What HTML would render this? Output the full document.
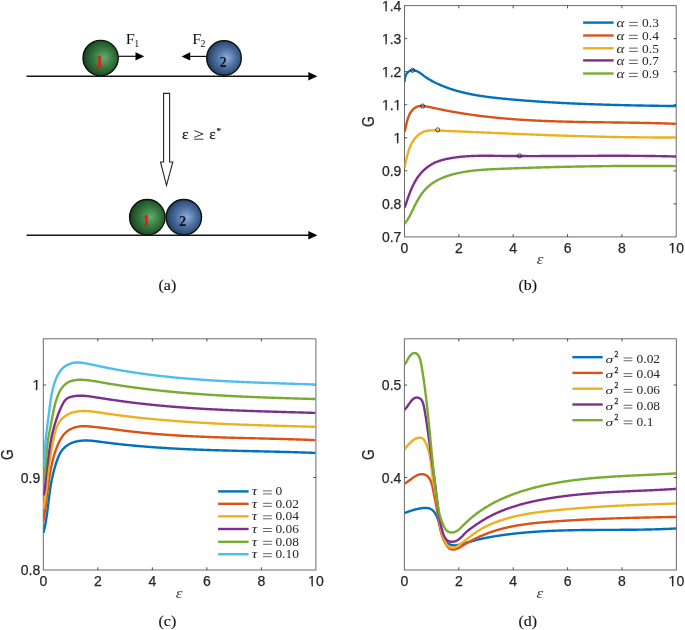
<!DOCTYPE html>
<html><head><meta charset="utf-8"><style>
html,body{margin:0;padding:0;background:#fff;overflow:hidden;}
svg{display:block;will-change:transform;}
.tk{stroke:#262626;stroke-width:0.25px;}
.tk2{stroke:#111;stroke-width:0.15px;}
.ln{fill:none;stroke-width:2.4;}
</style></head><body>
<svg width="685" height="630" viewBox="0 0 685 630">
<defs>
<clipPath id="fc0"><path clip-rule="evenodd" d="M-5.00,-20.00h25.57v30h-25.57ZM-0.13,-1.80H3.42V1.60H-0.13ZM4.86,-1.80H8.00V1.60H4.86Z"/></clipPath><clipPath id="fc1"><path clip-rule="evenodd" d="M-5.00,-20.00h17.79v30h-17.79ZM-0.13,-1.80H3.42V1.60H-0.13ZM4.86,-1.80H8.00V1.60H4.86Z"/></clipPath><clipPath id="fc2"><path clip-rule="evenodd" d="M-5.00,-20.00h29.46v30h-29.46ZM-0.13,-1.80H3.42V1.60H-0.13ZM4.86,-1.80H8.00V1.60H4.86ZM11.54,-1.80H15.10V1.60H11.54ZM16.53,-1.80H19.68V1.60H16.53Z"/></clipPath><clipPath id="fc3"><path clip-rule="evenodd" d="M-5.00,-20.00h29.46v30h-29.46ZM-0.13,-1.80H3.42V1.60H-0.13ZM4.86,-1.80H8.00V1.60H4.86Z"/></clipPath><clipPath id="fc4"><path clip-rule="evenodd" d="M-5.00,-20.00h29.46v30h-29.46ZM-0.13,-1.80H3.42V1.60H-0.13ZM4.86,-1.80H8.00V1.60H4.86Z"/></clipPath><clipPath id="fc5"><path clip-rule="evenodd" d="M-5.00,-20.00h29.46v30h-29.46ZM-0.13,-1.80H3.42V1.60H-0.13ZM4.86,-1.80H8.00V1.60H4.86Z"/></clipPath><clipPath id="fc6"><path clip-rule="evenodd" d="M-5.00,-20.00h25.57v30h-25.57ZM-0.13,-1.80H3.42V1.60H-0.13ZM4.86,-1.80H8.00V1.60H4.86Z"/></clipPath><clipPath id="fc7"><path clip-rule="evenodd" d="M-5.00,-20.00h17.79v30h-17.79ZM-0.13,-1.80H3.42V1.60H-0.13ZM4.86,-1.80H8.00V1.60H4.86Z"/></clipPath><clipPath id="fc8"><path clip-rule="evenodd" d="M-5.00,-20.00h25.57v30h-25.57ZM-0.13,-1.80H3.42V1.60H-0.13ZM4.86,-1.80H8.00V1.60H4.86Z"/></clipPath>
<clipPath id="cb"><rect x="404.5" y="5.6" width="271.7" height="231.3"/></clipPath>
<clipPath id="cc"><rect x="43.3" y="338.8" width="272.6" height="231.2"/></clipPath>
<clipPath id="cd"><rect x="404.4" y="338.8" width="272" height="231.2"/></clipPath>
<radialGradient id="gg" cx="0.56" cy="0.5" r="0.56" fx="0.6" fy="0.5">
<stop offset="0" stop-color="#66ad6e"/><stop offset="0.5" stop-color="#35793e"/><stop offset="0.85" stop-color="#21532a"/><stop offset="1" stop-color="#153a1b"/>
</radialGradient>
<radialGradient id="bg" cx="0.55" cy="0.5" r="0.56" fx="0.58" fy="0.5">
<stop offset="0" stop-color="#8eafd6"/><stop offset="0.5" stop-color="#4d70a0"/><stop offset="0.85" stop-color="#2d4a74"/><stop offset="1" stop-color="#1b2f50"/>
</radialGradient>
</defs>
<path d="M26.5,76.2H309" stroke="#151515" stroke-width="1.4"/>
<path d="M308.3,72.0L317.4,76.2L308.3,80.5Z" fill="#000"/>
<path d="M26.5,235.3H309" stroke="#151515" stroke-width="1.4"/>
<path d="M308.3,231.0L317.4,235.3L308.3,239.5Z" fill="#000"/>
<path d="M118,56.3H136.5" stroke="#111" stroke-width="1.2"/>
<path d="M135.5,52.3L144.2,56.3L135.5,60.4Z" fill="#000"/>
<path d="M206.5,56.4H189" stroke="#111" stroke-width="1.2"/>
<path d="M190.2,52.3L181.6,56.4L190.2,60.4Z" fill="#000"/>
<circle cx="100.6" cy="58" r="17.6" fill="url(#gg)" stroke="#0b140c" stroke-width="1.4"/>
<circle cx="224" cy="58" r="17.3" fill="url(#bg)" stroke="#0b140c" stroke-width="1.4"/>
<circle cx="147.3" cy="217.2" r="17.7" fill="url(#gg)" stroke="#0b140c" stroke-width="1.4"/>
<circle cx="183.8" cy="217.2" r="17.7" fill="url(#bg)" stroke="#0b140c" stroke-width="1.4"/>
<text transform="translate(95.32,66.70)" style="font-family:&quot;Liberation Serif&quot;,serif;font-weight:bold;font-size:16.4px" fill="#f21212">1</text>
<text transform="translate(219.72,66.60) scale(0.910,1)" style="font-family:&quot;Liberation Serif&quot;,serif;font-weight:bold;font-size:15.1px" fill="#0a0f1e">2</text>
<text transform="translate(141.96,226.20)" style="font-family:&quot;Liberation Serif&quot;,serif;font-weight:bold;font-size:16.8px" fill="#f21212">1</text>
<text transform="translate(179.08,225.80) scale(0.930,1)" style="font-family:&quot;Liberation Serif&quot;,serif;font-weight:bold;font-size:15.6px" fill="#0a0f1e">2</text>
<text transform="translate(125.73,44.40) scale(1.060,1)" style="font-family:&quot;Liberation Serif&quot;,serif;font-size:15.3px" fill="#111">F</text>
<text transform="translate(134.36,46.50)" style="font-family:&quot;Liberation Serif&quot;,serif;font-size:10px" fill="#111">1</text>
<text transform="translate(192.13,44.40) scale(1.060,1)" style="font-family:&quot;Liberation Serif&quot;,serif;font-size:15.3px" fill="#111">F</text>
<text transform="translate(200.56,46.60)" style="font-family:&quot;Liberation Serif&quot;,serif;font-size:10px" fill="#111">2</text>
<path d="M163.6,93.4H169.6V162H172.8L166.5,185.3L160.5,162H163.6Z" fill="#fff" stroke="#262626" stroke-width="1.1"/>
<text transform="translate(181.91,139.40) scale(1.080,1)" style="font-family:&quot;Liberation Serif&quot;,serif;font-size:14.2px" fill="#1a1a1a" class="tk">ε</text>
<path d="M194.3,130.5L203.0,133.9L194.3,137.3M194.2,139.2H203.3" stroke="#2a2a2a" stroke-width="0.95" fill="none"/>
<text transform="translate(209.21,139.40) scale(1.080,1)" style="font-family:&quot;Liberation Serif&quot;,serif;font-size:14.2px" fill="#1a1a1a" class="tk">ε</text>
<text transform="translate(216.46,134.20)" style="font-family:&quot;Liberation Serif&quot;,serif;font-size:9px" fill="#1a1a1a" class="tk">*</text>
<text transform="translate(158.49,290.40) scale(1.030,1)" style="font-family:&quot;Liberation Serif&quot;,serif;font-size:15.5px" fill="#111" class="tk2">(a)</text>
<rect x="404.5" y="5.6" width="271.70" height="231.30" fill="none" stroke="#6c6c6c" stroke-width="1"/>
<path d="M458.84,236.9V234.20M458.84,5.6V8.30M513.18,236.9V234.20M513.18,5.6V8.30M567.52,236.9V234.20M567.52,5.6V8.30M621.86,236.9V234.20M621.86,5.6V8.30M404.5,203.86H407.20M676.2,203.86H673.50M404.5,170.81H407.20M676.2,170.81H673.50M404.5,137.77H407.20M676.2,137.77H673.50M404.5,104.73H407.20M676.2,104.73H673.50M404.5,71.69H407.20M676.2,71.69H673.50M404.5,38.64H407.20M676.2,38.64H673.50" stroke="#262626" stroke-width="0.8" fill="none"/>
<text transform="translate(400.61,252.70)" style="font-family:&quot;Liberation Sans&quot;,sans-serif;font-size:14px" fill="#262626" class="tk">0</text>
<text transform="translate(454.95,252.70)" style="font-family:&quot;Liberation Sans&quot;,sans-serif;font-size:14px" fill="#262626" class="tk">2</text>
<text transform="translate(509.29,252.70)" style="font-family:&quot;Liberation Sans&quot;,sans-serif;font-size:14px" fill="#262626" class="tk">4</text>
<text transform="translate(563.63,252.70)" style="font-family:&quot;Liberation Sans&quot;,sans-serif;font-size:14px" fill="#262626" class="tk">6</text>
<text transform="translate(617.97,252.70)" style="font-family:&quot;Liberation Sans&quot;,sans-serif;font-size:14px" fill="#262626" class="tk">8</text>
<text transform="translate(668.41,252.70)" style="font-family:&quot;Liberation Sans&quot;,sans-serif;font-size:14px" fill="#262626" class="tk" clip-path="url(#fc0)">10</text>
<text transform="translate(381.94,241.90)" style="font-family:&quot;Liberation Sans&quot;,sans-serif;font-size:14px" fill="#262626" class="tk">0.7</text>
<text transform="translate(381.94,208.86)" style="font-family:&quot;Liberation Sans&quot;,sans-serif;font-size:14px" fill="#262626" class="tk">0.8</text>
<text transform="translate(381.94,175.81)" style="font-family:&quot;Liberation Sans&quot;,sans-serif;font-size:14px" fill="#262626" class="tk">0.9</text>
<text transform="translate(393.61,142.77)" style="font-family:&quot;Liberation Sans&quot;,sans-serif;font-size:14px" fill="#262626" class="tk" clip-path="url(#fc1)">1</text>
<text transform="translate(381.94,109.73)" style="font-family:&quot;Liberation Sans&quot;,sans-serif;font-size:14px" fill="#262626" class="tk" clip-path="url(#fc2)">1.1</text>
<text transform="translate(381.94,76.69)" style="font-family:&quot;Liberation Sans&quot;,sans-serif;font-size:14px" fill="#262626" class="tk" clip-path="url(#fc3)">1.2</text>
<text transform="translate(381.94,43.64)" style="font-family:&quot;Liberation Sans&quot;,sans-serif;font-size:14px" fill="#262626" class="tk" clip-path="url(#fc4)">1.3</text>
<text transform="translate(381.94,10.60)" style="font-family:&quot;Liberation Sans&quot;,sans-serif;font-size:14px" fill="#262626" class="tk" clip-path="url(#fc5)">1.4</text>
<path d="M404.52,82.30 L404.53,81.77 L404.55,81.23 L404.58,80.68 L404.63,80.11 L404.69,79.54 L404.77,78.96 L404.87,78.38 L404.99,77.79 L405.13,77.21 L405.29,76.64 L405.48,76.07 L405.68,75.52 L405.92,74.98 L406.18,74.45 L406.46,73.95 L406.78,73.47 L407.12,73.02 L407.50,72.59 L407.90,72.20 L408.33,71.83 L408.79,71.51 L409.27,71.21 L409.76,70.95 L410.28,70.73 L410.81,70.55 L411.35,70.41 L411.90,70.32 L412.46,70.26 L413.02,70.25 L413.58,70.29 L414.15,70.36 L414.71,70.47 L415.27,70.61 L415.83,70.79 L416.39,70.99 L416.94,71.22 L417.48,71.47 L418.01,71.74 L418.53,72.03 L419.05,72.32 L419.55,72.64 L420.03,72.96 L420.51,73.28 L420.99,73.62 L421.45,73.96 L421.91,74.31 L422.37,74.65 L422.83,75.00 L423.28,75.35 L423.74,75.69 L424.19,76.04 L424.65,76.38 L425.12,76.71 L425.59,77.04 L426.06,77.36 L426.53,77.68 L427.01,78.00 L427.49,78.31 L427.97,78.61 L428.46,78.92 L428.94,79.21 L429.43,79.51 L429.93,79.80 L430.42,80.09 L430.92,80.37 L431.42,80.65 L431.92,80.92 L432.43,81.19 L432.93,81.46 L433.44,81.73 L433.95,81.99 L434.46,82.25 L434.97,82.50 L435.49,82.76 L436.00,83.01 L436.52,83.25 L437.03,83.50 L437.55,83.74 L438.07,83.98 L438.59,84.21 L439.11,84.44 L439.63,84.67 L440.15,84.90 L440.68,85.13 L441.20,85.35 L441.73,85.57 L442.25,85.79 L442.78,86.00 L443.31,86.22 L443.83,86.43 L444.36,86.64 L444.89,86.84 L445.42,87.04 L445.95,87.25 L446.49,87.44 L447.02,87.64 L447.55,87.83 L448.09,88.02 L448.62,88.21 L449.16,88.40 L449.69,88.59 L450.23,88.77 L450.77,88.95 L451.31,89.13 L451.85,89.30 L452.39,89.48 L452.93,89.65 L453.47,89.82 L454.01,89.98 L454.55,90.15 L455.10,90.31 L455.64,90.47 L456.19,90.63 L456.73,90.79 L457.28,90.95 L457.82,91.10 L458.37,91.25 L458.92,91.40 L459.47,91.55 L460.02,91.69 L460.57,91.84 L461.12,91.98 L461.67,92.12 L462.22,92.26 L462.77,92.39 L463.32,92.53 L463.87,92.66 L464.43,92.79 L464.98,92.92 L465.54,93.05 L466.09,93.17 L466.65,93.30 L467.20,93.42 L467.76,93.54 L468.32,93.66 L468.87,93.78 L469.43,93.89 L469.99,94.01 L470.55,94.12 L471.11,94.23 L471.67,94.34 L472.23,94.45 L472.79,94.56 L473.35,94.67 L473.91,94.77 L474.47,94.87 L475.03,94.97 L475.60,95.07 L476.16,95.17 L476.72,95.27 L477.28,95.37 L477.85,95.46 L478.41,95.55 L478.98,95.65 L479.54,95.74 L480.11,95.83 L480.67,95.92 L481.24,96.00 L481.80,96.09 L482.37,96.17 L482.94,96.26 L483.51,96.34 L484.07,96.42 L484.64,96.50 L485.21,96.58 L485.78,96.66 L486.34,96.74 L486.91,96.82 L487.48,96.89 L488.05,96.97 L488.62,97.04 L489.19,97.11 L489.76,97.19 L490.33,97.26 L490.90,97.33 L491.47,97.40 L492.04,97.46 L492.61,97.53 L493.18,97.60 L493.75,97.66 L494.32,97.73 L494.89,97.79 L495.47,97.86 L496.04,97.92 L496.61,97.98 L497.18,98.05 L497.75,98.11 L498.32,98.17 L498.90,98.23 L499.47,98.29 L500.04,98.35 L500.61,98.40 L501.18,98.46 L501.76,98.52 L502.33,98.58 L502.90,98.63 L503.47,98.69 L504.04,98.74 L504.62,98.80 L505.19,98.85 L505.76,98.91 L506.33,98.96 L506.91,99.01 L507.48,99.07 L508.05,99.12 L508.62,99.17 L509.20,99.23 L509.77,99.28 L510.34,99.33 L510.91,99.38 L511.48,99.43 L512.06,99.48 L512.63,99.53 L513.20,99.58 L513.77,99.63 L514.34,99.68 L514.92,99.73 L515.49,99.78 L516.06,99.83 L516.63,99.88 L517.20,99.93 L517.77,99.98 L518.35,100.02 L518.92,100.07 L519.49,100.12 L520.06,100.16 L520.63,100.21 L521.20,100.26 L521.77,100.30 L522.35,100.35 L522.92,100.40 L523.49,100.44 L524.06,100.49 L524.63,100.53 L525.20,100.58 L525.77,100.62 L526.35,100.66 L526.92,100.71 L527.49,100.75 L528.06,100.79 L528.63,100.84 L529.20,100.88 L529.77,100.92 L530.34,100.97 L530.91,101.01 L531.48,101.05 L532.06,101.09 L532.63,101.13 L533.20,101.17 L533.77,101.21 L534.34,101.25 L534.91,101.30 L535.48,101.34 L536.05,101.38 L536.62,101.41 L537.19,101.45 L537.76,101.49 L538.33,101.53 L538.90,101.57 L539.47,101.61 L540.05,101.65 L540.62,101.69 L541.19,101.72 L541.76,101.76 L542.33,101.80 L542.90,101.83 L543.47,101.87 L544.04,101.91 L544.61,101.94 L545.18,101.98 L545.75,102.02 L546.32,102.05 L546.89,102.09 L547.46,102.12 L548.03,102.16 L548.60,102.19 L549.17,102.23 L549.74,102.26 L550.31,102.29 L550.88,102.33 L551.45,102.36 L552.02,102.40 L552.59,102.43 L553.16,102.46 L553.73,102.49 L554.30,102.53 L554.87,102.56 L555.44,102.59 L556.01,102.62 L556.58,102.66 L557.16,102.69 L557.73,102.72 L558.30,102.75 L558.87,102.78 L559.44,102.81 L560.01,102.84 L560.58,102.87 L561.15,102.90 L561.72,102.93 L562.29,102.96 L562.86,102.99 L563.43,103.02 L564.00,103.05 L564.57,103.08 L565.14,103.11 L565.71,103.13 L566.28,103.16 L566.85,103.19 L567.42,103.22 L567.99,103.25 L568.56,103.27 L569.13,103.30 L569.70,103.33 L570.27,103.36 L570.84,103.38 L571.41,103.41 L571.98,103.44 L572.55,103.46 L573.12,103.49 L573.69,103.51 L574.26,103.54 L574.83,103.56 L575.40,103.59 L575.96,103.61 L576.53,103.64 L577.10,103.66 L577.67,103.69 L578.24,103.71 L578.81,103.74 L579.38,103.76 L579.95,103.79 L580.52,103.81 L581.09,103.83 L581.66,103.86 L582.23,103.88 L582.80,103.90 L583.37,103.92 L583.94,103.95 L584.51,103.97 L585.08,103.99 L585.65,104.01 L586.22,104.04 L586.79,104.06 L587.36,104.08 L587.93,104.10 L588.50,104.12 L589.07,104.14 L589.64,104.17 L590.21,104.19 L590.78,104.21 L591.35,104.23 L591.93,104.25 L592.50,104.27 L593.07,104.29 L593.64,104.31 L594.21,104.33 L594.78,104.35 L595.35,104.37 L595.92,104.39 L596.49,104.41 L597.06,104.43 L597.63,104.44 L598.20,104.46 L598.77,104.48 L599.34,104.50 L599.91,104.52 L600.48,104.54 L601.05,104.55 L601.62,104.57 L602.19,104.59 L602.76,104.61 L603.33,104.63 L603.90,104.64 L604.47,104.66 L605.04,104.68 L605.61,104.69 L606.18,104.71 L606.75,104.73 L607.32,104.74 L607.89,104.76 L608.46,104.78 L609.03,104.79 L609.60,104.81 L610.18,104.83 L610.75,104.84 L611.32,104.86 L611.89,104.87 L612.46,104.89 L613.03,104.90 L613.60,104.92 L614.17,104.93 L614.74,104.95 L615.31,104.96 L615.88,104.98 L616.45,104.99 L617.02,105.01 L617.60,105.02 L618.17,105.04 L618.74,105.05 L619.31,105.07 L619.88,105.08 L620.45,105.09 L621.02,105.11 L621.59,105.12 L622.16,105.13 L622.73,105.15 L623.31,105.16 L623.88,105.17 L624.45,105.19 L625.02,105.20 L625.59,105.21 L626.16,105.23 L626.73,105.24 L627.30,105.25 L627.88,105.26 L628.45,105.28 L629.02,105.29 L629.59,105.30 L630.16,105.31 L630.73,105.33 L631.31,105.34 L631.88,105.35 L632.45,105.36 L633.02,105.37 L633.59,105.39 L634.16,105.40 L634.74,105.41 L635.31,105.42 L635.88,105.43 L636.45,105.44 L637.02,105.45 L637.60,105.46 L638.17,105.48 L638.74,105.49 L639.31,105.50 L639.88,105.51 L640.46,105.52 L641.03,105.53 L641.60,105.54 L642.17,105.55 L642.74,105.56 L643.32,105.57 L643.89,105.58 L644.46,105.59 L645.03,105.60 L645.61,105.61 L646.18,105.62 L646.75,105.63 L647.32,105.64 L647.90,105.65 L648.47,105.66 L649.04,105.67 L649.62,105.68 L650.19,105.69 L650.76,105.70 L651.33,105.71 L651.91,105.72 L652.48,105.73 L653.05,105.74 L653.63,105.74 L654.20,105.75 L654.77,105.76 L655.35,105.77 L655.92,105.78 L656.49,105.79 L657.07,105.80 L657.64,105.81 L658.21,105.82 L658.79,105.82 L659.36,105.83 L659.94,105.84 L660.51,105.85 L661.08,105.86 L661.66,105.87 L662.23,105.88 L662.80,105.88 L663.38,105.89 L663.95,105.90 L664.53,105.91 L665.10,105.92 L665.67,105.92 L666.25,105.93 L666.82,105.94 L667.40,105.95 L667.97,105.96 L668.55,105.96 L669.12,105.97 L669.70,105.98 L670.27,105.99 L670.85,106.00 L671.42,106.00 L671.99,106.01 L672.57,106.02 L673.14,106.03 L673.72,106.04 L674.29,106.04 L674.87,106.05 L675.45,106.06 L676.02,106.07" stroke="#0072BD" class="ln" clip-path="url(#cb)"/>
<path d="M404.50,131.99 L404.67,131.44 L404.82,130.89 L404.98,130.33 L405.12,129.77 L405.26,129.21 L405.40,128.65 L405.53,128.08 L405.66,127.52 L405.79,126.95 L405.91,126.39 L406.04,125.82 L406.16,125.25 L406.28,124.68 L406.41,124.12 L406.53,123.55 L406.66,122.98 L406.80,122.42 L406.93,121.85 L407.07,121.29 L407.22,120.73 L407.37,120.17 L407.53,119.61 L407.69,119.06 L407.87,118.50 L408.05,117.95 L408.24,117.41 L408.44,116.86 L408.66,116.32 L408.88,115.78 L409.12,115.25 L409.37,114.72 L409.63,114.19 L409.91,113.67 L410.20,113.15 L410.51,112.64 L410.83,112.14 L411.16,111.65 L411.51,111.17 L411.88,110.70 L412.25,110.25 L412.64,109.81 L413.05,109.39 L413.46,109.00 L413.89,108.62 L414.34,108.26 L414.79,107.93 L415.26,107.62 L415.74,107.34 L416.23,107.09 L416.73,106.87 L417.25,106.68 L417.78,106.52 L418.31,106.39 L418.86,106.28 L419.41,106.19 L419.97,106.13 L420.53,106.09 L421.11,106.07 L421.69,106.06 L422.27,106.07 L422.85,106.10 L423.44,106.15 L424.03,106.20 L424.63,106.26 L425.22,106.34 L425.81,106.42 L426.40,106.51 L426.99,106.61 L427.58,106.70 L428.17,106.81 L428.75,106.91 L429.33,107.02 L429.91,107.13 L430.49,107.24 L431.06,107.36 L431.64,107.47 L432.21,107.59 L432.78,107.71 L433.35,107.83 L433.92,107.96 L434.49,108.08 L435.06,108.20 L435.63,108.33 L436.20,108.45 L436.77,108.57 L437.34,108.70 L437.90,108.82 L438.47,108.94 L439.04,109.06 L439.61,109.18 L440.18,109.30 L440.74,109.42 L441.31,109.54 L441.88,109.65 L442.45,109.77 L443.02,109.89 L443.59,110.00 L444.16,110.11 L444.73,110.23 L445.30,110.34 L445.87,110.45 L446.43,110.56 L447.00,110.67 L447.57,110.78 L448.14,110.89 L448.71,111.00 L449.28,111.11 L449.85,111.21 L450.42,111.32 L450.99,111.42 L451.56,111.53 L452.13,111.63 L452.70,111.74 L453.28,111.84 L453.85,111.94 L454.42,112.04 L454.99,112.14 L455.56,112.24 L456.13,112.34 L456.70,112.44 L457.27,112.54 L457.84,112.63 L458.41,112.73 L458.99,112.82 L459.56,112.92 L460.13,113.01 L460.70,113.11 L461.27,113.20 L461.84,113.29 L462.42,113.38 L462.99,113.47 L463.56,113.56 L464.13,113.65 L464.70,113.74 L465.28,113.83 L465.85,113.92 L466.42,114.01 L466.99,114.09 L467.57,114.18 L468.14,114.26 L468.71,114.35 L469.29,114.43 L469.86,114.51 L470.43,114.60 L471.01,114.68 L471.58,114.76 L472.15,114.84 L472.73,114.92 L473.30,115.00 L473.87,115.08 L474.45,115.16 L475.02,115.24 L475.59,115.31 L476.17,115.39 L476.74,115.47 L477.32,115.54 L477.89,115.62 L478.46,115.69 L479.04,115.76 L479.61,115.84 L480.19,115.91 L480.76,115.98 L481.34,116.05 L481.91,116.12 L482.49,116.19 L483.06,116.26 L483.64,116.33 L484.21,116.40 L484.79,116.47 L485.36,116.54 L485.94,116.60 L486.51,116.67 L487.09,116.73 L487.66,116.80 L488.24,116.86 L488.81,116.93 L489.39,116.99 L489.96,117.05 L490.54,117.12 L491.11,117.18 L491.69,117.24 L492.27,117.30 L492.84,117.36 L493.42,117.42 L493.99,117.48 L494.57,117.54 L495.15,117.60 L495.72,117.65 L496.30,117.71 L496.88,117.77 L497.45,117.83 L498.03,117.88 L498.61,117.94 L499.18,117.99 L499.76,118.05 L500.34,118.10 L500.91,118.15 L501.49,118.21 L502.07,118.26 L502.64,118.31 L503.22,118.36 L503.80,118.41 L504.37,118.46 L504.95,118.51 L505.53,118.56 L506.11,118.61 L506.68,118.66 L507.26,118.71 L507.84,118.75 L508.42,118.80 L508.99,118.85 L509.57,118.89 L510.15,118.94 L510.73,118.99 L511.30,119.03 L511.88,119.08 L512.46,119.12 L513.04,119.16 L513.62,119.21 L514.19,119.25 L514.77,119.29 L515.35,119.33 L515.93,119.38 L516.51,119.42 L517.08,119.46 L517.66,119.50 L518.24,119.54 L518.82,119.58 L519.40,119.62 L519.98,119.65 L520.56,119.69 L521.13,119.73 L521.71,119.77 L522.29,119.80 L522.87,119.84 L523.45,119.88 L524.03,119.91 L524.61,119.95 L525.19,119.98 L525.76,120.02 L526.34,120.05 L526.92,120.09 L527.50,120.12 L528.08,120.15 L528.66,120.19 L529.24,120.22 L529.82,120.25 L530.40,120.28 L530.98,120.32 L531.56,120.35 L532.14,120.38 L532.72,120.41 L533.29,120.44 L533.87,120.47 L534.45,120.50 L535.03,120.53 L535.61,120.56 L536.19,120.58 L536.77,120.61 L537.35,120.64 L537.93,120.67 L538.51,120.69 L539.09,120.72 L539.67,120.75 L540.25,120.77 L540.83,120.80 L541.41,120.83 L541.99,120.85 L542.57,120.88 L543.15,120.90 L543.73,120.92 L544.31,120.95 L544.89,120.97 L545.47,121.00 L546.05,121.02 L546.63,121.04 L547.21,121.06 L547.79,121.09 L548.37,121.11 L548.95,121.13 L549.53,121.15 L550.11,121.17 L550.69,121.19 L551.27,121.22 L551.85,121.24 L552.44,121.26 L553.02,121.28 L553.60,121.30 L554.18,121.32 L554.76,121.33 L555.34,121.35 L555.92,121.37 L556.50,121.39 L557.08,121.41 L557.66,121.43 L558.24,121.44 L558.82,121.46 L559.40,121.48 L559.98,121.50 L560.56,121.51 L561.14,121.53 L561.73,121.55 L562.31,121.56 L562.89,121.58 L563.47,121.59 L564.05,121.61 L564.63,121.63 L565.21,121.64 L565.79,121.66 L566.37,121.67 L566.95,121.69 L567.53,121.70 L568.12,121.71 L568.70,121.73 L569.28,121.74 L569.86,121.76 L570.44,121.77 L571.02,121.78 L571.60,121.79 L572.18,121.81 L572.76,121.82 L573.34,121.83 L573.93,121.85 L574.51,121.86 L575.09,121.87 L575.67,121.88 L576.25,121.89 L576.83,121.91 L577.41,121.92 L577.99,121.93 L578.57,121.94 L579.16,121.95 L579.74,121.96 L580.32,121.97 L580.90,121.98 L581.48,121.99 L582.06,122.00 L582.64,122.01 L583.22,122.02 L583.80,122.03 L584.39,122.04 L584.97,122.05 L585.55,122.06 L586.13,122.07 L586.71,122.08 L587.29,122.09 L587.87,122.10 L588.45,122.11 L589.04,122.12 L589.62,122.13 L590.20,122.14 L590.78,122.15 L591.36,122.16 L591.94,122.16 L592.52,122.17 L593.10,122.18 L593.68,122.19 L594.27,122.20 L594.85,122.21 L595.43,122.21 L596.01,122.22 L596.59,122.23 L597.17,122.24 L597.75,122.25 L598.33,122.25 L598.91,122.26 L599.50,122.27 L600.08,122.28 L600.66,122.29 L601.24,122.29 L601.82,122.30 L602.40,122.31 L602.98,122.32 L603.56,122.32 L604.14,122.33 L604.73,122.34 L605.31,122.35 L605.89,122.35 L606.47,122.36 L607.05,122.37 L607.63,122.37 L608.21,122.38 L608.79,122.39 L609.37,122.40 L609.95,122.40 L610.53,122.41 L611.12,122.42 L611.70,122.43 L612.28,122.43 L612.86,122.44 L613.44,122.45 L614.02,122.45 L614.60,122.46 L615.18,122.47 L615.76,122.48 L616.34,122.48 L616.92,122.49 L617.50,122.50 L618.08,122.51 L618.66,122.51 L619.25,122.52 L619.83,122.53 L620.41,122.54 L620.99,122.54 L621.57,122.55 L622.15,122.56 L622.73,122.57 L623.31,122.58 L623.89,122.58 L624.47,122.59 L625.05,122.60 L625.63,122.61 L626.21,122.62 L626.79,122.62 L627.37,122.63 L627.95,122.64 L628.53,122.65 L629.11,122.66 L629.69,122.67 L630.27,122.68 L630.85,122.68 L631.43,122.69 L632.01,122.70 L632.59,122.71 L633.17,122.72 L633.75,122.73 L634.33,122.74 L634.91,122.75 L635.49,122.76 L636.07,122.77 L636.65,122.78 L637.23,122.79 L637.81,122.80 L638.39,122.81 L638.97,122.82 L639.55,122.83 L640.13,122.84 L640.71,122.85 L641.29,122.86 L641.87,122.87 L642.45,122.88 L643.03,122.89 L643.60,122.90 L644.18,122.92 L644.76,122.93 L645.34,122.94 L645.92,122.95 L646.50,122.96 L647.08,122.98 L647.66,122.99 L648.24,123.00 L648.82,123.01 L649.40,123.03 L649.97,123.04 L650.55,123.05 L651.13,123.07 L651.71,123.08 L652.29,123.09 L652.87,123.11 L653.45,123.12 L654.03,123.14 L654.60,123.15 L655.18,123.17 L655.76,123.18 L656.34,123.20 L656.92,123.21 L657.50,123.23 L658.07,123.24 L658.65,123.26 L659.23,123.27 L659.81,123.29 L660.39,123.31 L660.96,123.32 L661.54,123.34 L662.12,123.36 L662.70,123.38 L663.28,123.39 L663.85,123.41 L664.43,123.43 L665.01,123.45 L665.59,123.47 L666.16,123.49 L666.74,123.51 L667.32,123.53 L667.90,123.55 L668.47,123.57 L669.05,123.59 L669.63,123.61 L670.20,123.63 L670.78,123.65 L671.36,123.67 L671.94,123.69 L672.51,123.71 L673.09,123.73 L673.67,123.76 L674.24,123.78 L674.82,123.80 L675.40,123.83 L675.97,123.85" stroke="#D95319" class="ln" clip-path="url(#cb)"/>
<path d="M404.51,167.58 L404.64,167.02 L404.77,166.46 L404.90,165.90 L405.02,165.33 L405.15,164.76 L405.27,164.20 L405.40,163.62 L405.52,163.05 L405.65,162.48 L405.77,161.90 L405.90,161.32 L406.03,160.74 L406.15,160.16 L406.28,159.58 L406.42,159.00 L406.55,158.42 L406.69,157.84 L406.82,157.26 L406.97,156.68 L407.11,156.10 L407.26,155.52 L407.41,154.94 L407.56,154.37 L407.72,153.79 L407.88,153.21 L408.05,152.64 L408.22,152.07 L408.40,151.50 L408.58,150.93 L408.76,150.36 L408.96,149.80 L409.15,149.24 L409.36,148.68 L409.57,148.12 L409.79,147.57 L410.01,147.02 L410.24,146.48 L410.48,145.94 L410.72,145.40 L410.98,144.87 L411.24,144.34 L411.51,143.81 L411.78,143.29 L412.07,142.77 L412.37,142.26 L412.67,141.76 L412.99,141.26 L413.31,140.76 L413.64,140.27 L413.99,139.79 L414.34,139.31 L414.70,138.84 L415.08,138.38 L415.47,137.92 L415.86,137.47 L416.27,137.03 L416.69,136.60 L417.11,136.17 L417.55,135.76 L418.00,135.36 L418.45,134.97 L418.91,134.59 L419.38,134.23 L419.86,133.88 L420.35,133.54 L420.84,133.22 L421.34,132.92 L421.85,132.63 L422.36,132.37 L422.88,132.12 L423.41,131.88 L423.94,131.67 L424.47,131.48 L425.01,131.31 L425.56,131.15 L426.11,131.01 L426.66,130.89 L427.22,130.78 L427.79,130.69 L428.35,130.61 L428.92,130.54 L429.49,130.48 L430.07,130.44 L430.65,130.40 L431.23,130.38 L431.81,130.36 L432.40,130.35 L432.99,130.35 L433.58,130.36 L434.17,130.37 L434.76,130.38 L435.35,130.40 L435.95,130.42 L436.54,130.45 L437.14,130.47 L437.73,130.50 L438.33,130.52 L438.92,130.55 L439.52,130.57 L440.11,130.60 L440.71,130.63 L441.30,130.65 L441.89,130.68 L442.49,130.70 L443.08,130.73 L443.68,130.75 L444.27,130.78 L444.87,130.81 L445.46,130.83 L446.05,130.86 L446.65,130.88 L447.24,130.91 L447.84,130.94 L448.43,130.96 L449.02,130.99 L449.62,131.01 L450.21,131.04 L450.81,131.07 L451.40,131.09 L451.99,131.12 L452.59,131.14 L453.18,131.17 L453.77,131.20 L454.37,131.22 L454.96,131.25 L455.55,131.27 L456.15,131.30 L456.74,131.33 L457.34,131.35 L457.93,131.38 L458.52,131.41 L459.11,131.43 L459.71,131.46 L460.30,131.48 L460.89,131.51 L461.49,131.54 L462.08,131.56 L462.67,131.59 L463.27,131.61 L463.86,131.64 L464.45,131.67 L465.04,131.69 L465.64,131.72 L466.23,131.74 L466.82,131.77 L467.42,131.80 L468.01,131.82 L468.60,131.85 L469.19,131.88 L469.79,131.90 L470.38,131.93 L470.97,131.95 L471.56,131.98 L472.16,132.01 L472.75,132.03 L473.34,132.06 L473.93,132.08 L474.52,132.11 L475.12,132.14 L475.71,132.16 L476.30,132.19 L476.89,132.21 L477.49,132.24 L478.08,132.27 L478.67,132.29 L479.26,132.32 L479.85,132.34 L480.45,132.37 L481.04,132.39 L481.63,132.42 L482.22,132.45 L482.81,132.47 L483.40,132.50 L484.00,132.52 L484.59,132.55 L485.18,132.58 L485.77,132.60 L486.36,132.63 L486.95,132.65 L487.55,132.68 L488.14,132.70 L488.73,132.73 L489.32,132.75 L489.91,132.78 L490.50,132.81 L491.09,132.83 L491.69,132.86 L492.28,132.88 L492.87,132.91 L493.46,132.93 L494.05,132.96 L494.64,132.98 L495.23,133.01 L495.82,133.04 L496.41,133.06 L497.01,133.09 L497.60,133.11 L498.19,133.14 L498.78,133.16 L499.37,133.19 L499.96,133.21 L500.55,133.24 L501.14,133.26 L501.73,133.29 L502.32,133.31 L502.92,133.34 L503.51,133.36 L504.10,133.39 L504.69,133.41 L505.28,133.44 L505.87,133.46 L506.46,133.49 L507.05,133.51 L507.64,133.54 L508.23,133.56 L508.82,133.59 L509.41,133.61 L510.00,133.63 L510.59,133.66 L511.18,133.68 L511.77,133.71 L512.37,133.73 L512.96,133.76 L513.55,133.78 L514.14,133.81 L514.73,133.83 L515.32,133.85 L515.91,133.88 L516.50,133.90 L517.09,133.93 L517.68,133.95 L518.27,133.97 L518.86,134.00 L519.45,134.02 L520.04,134.05 L520.63,134.07 L521.22,134.09 L521.81,134.12 L522.40,134.14 L522.99,134.17 L523.58,134.19 L524.17,134.21 L524.76,134.24 L525.35,134.26 L525.94,134.28 L526.53,134.31 L527.12,134.33 L527.71,134.35 L528.30,134.38 L528.89,134.40 L529.48,134.42 L530.07,134.45 L530.66,134.47 L531.25,134.49 L531.84,134.51 L532.43,134.54 L533.02,134.56 L533.61,134.58 L534.20,134.61 L534.79,134.63 L535.38,134.65 L535.97,134.67 L536.56,134.70 L537.15,134.72 L537.74,134.74 L538.33,134.76 L538.92,134.79 L539.51,134.81 L540.10,134.83 L540.69,134.85 L541.28,134.87 L541.87,134.90 L542.46,134.92 L543.05,134.94 L543.64,134.96 L544.23,134.98 L544.82,135.00 L545.41,135.03 L546.00,135.05 L546.59,135.07 L547.18,135.09 L547.77,135.11 L548.36,135.13 L548.95,135.15 L549.54,135.18 L550.13,135.20 L550.72,135.22 L551.31,135.24 L551.90,135.26 L552.49,135.28 L553.08,135.30 L553.67,135.32 L554.25,135.34 L554.84,135.36 L555.43,135.38 L556.02,135.40 L556.61,135.42 L557.20,135.44 L557.79,135.46 L558.38,135.48 L558.97,135.50 L559.56,135.52 L560.15,135.54 L560.74,135.56 L561.33,135.58 L561.92,135.60 L562.51,135.62 L563.10,135.64 L563.69,135.66 L564.28,135.68 L564.87,135.70 L565.46,135.72 L566.05,135.74 L566.64,135.76 L567.23,135.77 L567.82,135.79 L568.41,135.81 L569.00,135.83 L569.59,135.85 L570.18,135.87 L570.77,135.89 L571.36,135.90 L571.95,135.92 L572.54,135.94 L573.13,135.96 L573.72,135.98 L574.31,136.00 L574.89,136.01 L575.48,136.03 L576.07,136.05 L576.66,136.07 L577.25,136.08 L577.84,136.10 L578.43,136.12 L579.02,136.14 L579.61,136.15 L580.20,136.17 L580.79,136.19 L581.38,136.20 L581.97,136.22 L582.56,136.24 L583.15,136.25 L583.74,136.27 L584.33,136.29 L584.92,136.30 L585.51,136.32 L586.10,136.33 L586.69,136.35 L587.28,136.37 L587.87,136.38 L588.46,136.40 L589.05,136.41 L589.64,136.43 L590.23,136.44 L590.82,136.46 L591.41,136.47 L592.00,136.49 L592.59,136.50 L593.18,136.52 L593.77,136.53 L594.36,136.55 L594.95,136.56 L595.54,136.58 L596.13,136.59 L596.72,136.61 L597.31,136.62 L597.90,136.63 L598.49,136.65 L599.08,136.66 L599.67,136.68 L600.26,136.69 L600.85,136.70 L601.44,136.72 L602.03,136.73 L602.62,136.74 L603.22,136.76 L603.81,136.77 L604.40,136.78 L604.99,136.80 L605.58,136.81 L606.17,136.82 L606.76,136.83 L607.35,136.85 L607.94,136.86 L608.53,136.87 L609.12,136.88 L609.71,136.89 L610.30,136.91 L610.89,136.92 L611.48,136.93 L612.07,136.94 L612.66,136.95 L613.25,136.96 L613.84,136.97 L614.43,136.99 L615.03,137.00 L615.62,137.01 L616.21,137.02 L616.80,137.03 L617.39,137.04 L617.98,137.05 L618.57,137.06 L619.16,137.07 L619.75,137.08 L620.34,137.09 L620.93,137.10 L621.52,137.11 L622.12,137.12 L622.71,137.13 L623.30,137.14 L623.89,137.14 L624.48,137.15 L625.07,137.16 L625.66,137.17 L626.25,137.18 L626.84,137.19 L627.44,137.20 L628.03,137.20 L628.62,137.21 L629.21,137.22 L629.80,137.23 L630.39,137.24 L630.98,137.24 L631.58,137.25 L632.17,137.26 L632.76,137.27 L633.35,137.27 L633.94,137.28 L634.53,137.29 L635.12,137.29 L635.72,137.30 L636.31,137.31 L636.90,137.31 L637.49,137.32 L638.08,137.32 L638.67,137.33 L639.27,137.34 L639.86,137.34 L640.45,137.35 L641.04,137.35 L641.63,137.36 L642.23,137.36 L642.82,137.37 L643.41,137.37 L644.00,137.38 L644.59,137.38 L645.19,137.38 L645.78,137.39 L646.37,137.39 L646.96,137.40 L647.56,137.40 L648.15,137.40 L648.74,137.41 L649.33,137.41 L649.93,137.41 L650.52,137.42 L651.11,137.42 L651.70,137.42 L652.30,137.43 L652.89,137.43 L653.48,137.43 L654.07,137.43 L654.67,137.43 L655.26,137.44 L655.85,137.44 L656.44,137.44 L657.04,137.44 L657.63,137.44 L658.22,137.44 L658.82,137.44 L659.41,137.44 L660.00,137.45 L660.60,137.45 L661.19,137.45 L661.78,137.45 L662.37,137.45 L662.97,137.45 L663.56,137.45 L664.15,137.45 L664.75,137.45 L665.34,137.44 L665.94,137.44 L666.53,137.44 L667.12,137.44 L667.72,137.44 L668.31,137.44 L668.90,137.44 L669.50,137.44 L670.09,137.43 L670.68,137.43 L671.28,137.43 L671.87,137.43 L672.47,137.42 L673.06,137.42 L673.65,137.42 L674.25,137.41 L674.84,137.41 L675.44,137.41 L676.03,137.40" stroke="#EDB120" class="ln" clip-path="url(#cb)"/>
<path d="M404.52,207.89 L404.72,207.34 L404.91,206.78 L405.10,206.23 L405.29,205.67 L405.48,205.11 L405.68,204.55 L405.87,203.99 L406.06,203.42 L406.25,202.86 L406.44,202.29 L406.64,201.73 L406.83,201.16 L407.02,200.60 L407.22,200.03 L407.41,199.47 L407.61,198.90 L407.81,198.33 L408.01,197.77 L408.21,197.20 L408.41,196.63 L408.61,196.07 L408.82,195.50 L409.03,194.94 L409.24,194.37 L409.45,193.81 L409.66,193.25 L409.88,192.69 L410.10,192.13 L410.32,191.57 L410.54,191.01 L410.77,190.45 L411.00,189.90 L411.23,189.34 L411.47,188.79 L411.71,188.24 L411.95,187.70 L412.20,187.15 L412.44,186.61 L412.70,186.06 L412.96,185.52 L413.22,184.99 L413.48,184.45 L413.75,183.92 L414.03,183.39 L414.31,182.87 L414.59,182.34 L414.88,181.82 L415.17,181.30 L415.47,180.79 L415.77,180.28 L416.08,179.77 L416.39,179.27 L416.71,178.77 L417.03,178.27 L417.36,177.78 L417.70,177.29 L418.04,176.80 L418.39,176.32 L418.74,175.85 L419.10,175.37 L419.47,174.91 L419.84,174.44 L420.22,173.98 L420.61,173.53 L421.00,173.08 L421.40,172.64 L421.81,172.20 L422.22,171.76 L422.64,171.33 L423.06,170.91 L423.49,170.49 L423.93,170.08 L424.38,169.67 L424.83,169.27 L425.28,168.88 L425.74,168.49 L426.21,168.11 L426.68,167.73 L427.16,167.37 L427.64,167.00 L428.13,166.65 L428.62,166.30 L429.12,165.96 L429.62,165.62 L430.12,165.29 L430.63,164.97 L431.15,164.66 L431.67,164.36 L432.19,164.06 L432.72,163.77 L433.25,163.49 L433.78,163.21 L434.32,162.95 L434.86,162.69 L435.40,162.44 L435.95,162.20 L436.50,161.97 L437.05,161.75 L437.61,161.53 L438.16,161.32 L438.72,161.12 L439.29,160.92 L439.85,160.74 L440.42,160.55 L440.99,160.38 L441.56,160.21 L442.13,160.05 L442.71,159.89 L443.29,159.74 L443.86,159.59 L444.44,159.45 L445.02,159.31 L445.61,159.18 L446.19,159.05 L446.77,158.92 L447.36,158.80 L447.94,158.68 L448.53,158.57 L449.11,158.45 L449.70,158.35 L450.28,158.24 L450.87,158.14 L451.46,158.03 L452.04,157.94 L452.63,157.84 L453.22,157.75 L453.81,157.66 L454.40,157.57 L454.99,157.49 L455.58,157.41 L456.17,157.33 L456.76,157.25 L457.35,157.17 L457.94,157.10 L458.53,157.03 L459.12,156.97 L459.71,156.90 L460.30,156.84 L460.90,156.78 L461.49,156.72 L462.08,156.66 L462.67,156.61 L463.27,156.56 L463.86,156.51 L464.45,156.46 L465.05,156.41 L465.64,156.37 L466.24,156.33 L466.83,156.29 L467.43,156.25 L468.02,156.21 L468.62,156.18 L469.21,156.14 L469.81,156.11 L470.40,156.08 L471.00,156.05 L471.60,156.03 L472.19,156.00 L472.79,155.98 L473.39,155.96 L473.98,155.94 L474.58,155.92 L475.18,155.90 L475.78,155.88 L476.38,155.87 L476.97,155.85 L477.57,155.84 L478.17,155.83 L478.77,155.82 L479.37,155.81 L479.96,155.80 L480.56,155.80 L481.16,155.79 L481.76,155.78 L482.36,155.78 L482.96,155.78 L483.56,155.77 L484.16,155.77 L484.76,155.77 L485.36,155.77 L485.96,155.77 L486.56,155.77 L487.16,155.78 L487.75,155.78 L488.35,155.78 L488.95,155.78 L489.55,155.79 L490.15,155.79 L490.75,155.80 L491.35,155.80 L491.95,155.81 L492.55,155.82 L493.15,155.82 L493.75,155.83 L494.35,155.84 L494.95,155.84 L495.55,155.85 L496.15,155.86 L496.75,155.87 L497.35,155.87 L497.95,155.88 L498.55,155.89 L499.15,155.90 L499.75,155.90 L500.35,155.91 L500.95,155.92 L501.55,155.92 L502.15,155.93 L502.75,155.94 L503.35,155.94 L503.95,155.95 L504.55,155.95 L505.15,155.96 L505.75,155.97 L506.35,155.97 L506.95,155.98 L507.54,155.98 L508.14,155.99 L508.74,155.99 L509.34,156.00 L509.94,156.00 L510.54,156.01 L511.14,156.01 L511.74,156.01 L512.33,156.02 L512.93,156.02 L513.53,156.03 L514.13,156.03 L514.73,156.03 L515.33,156.04 L515.93,156.04 L516.52,156.04 L517.12,156.05 L517.72,156.05 L518.32,156.05 L518.92,156.05 L519.52,156.06 L520.11,156.06 L520.71,156.06 L521.31,156.06 L521.91,156.06 L522.51,156.07 L523.10,156.07 L523.70,156.07 L524.30,156.07 L524.90,156.07 L525.50,156.07 L526.09,156.07 L526.69,156.08 L527.29,156.08 L527.89,156.08 L528.48,156.08 L529.08,156.08 L529.68,156.08 L530.28,156.08 L530.87,156.08 L531.47,156.08 L532.07,156.08 L532.67,156.08 L533.26,156.08 L533.86,156.08 L534.46,156.08 L535.06,156.08 L535.65,156.08 L536.25,156.08 L536.85,156.08 L537.44,156.08 L538.04,156.08 L538.64,156.08 L539.24,156.08 L539.83,156.08 L540.43,156.07 L541.03,156.07 L541.62,156.07 L542.22,156.07 L542.82,156.07 L543.41,156.07 L544.01,156.07 L544.61,156.07 L545.20,156.06 L545.80,156.06 L546.40,156.06 L546.99,156.06 L547.59,156.06 L548.19,156.06 L548.78,156.05 L549.38,156.05 L549.98,156.05 L550.57,156.05 L551.17,156.05 L551.77,156.04 L552.36,156.04 L552.96,156.04 L553.56,156.04 L554.15,156.03 L554.75,156.03 L555.35,156.03 L555.94,156.03 L556.54,156.02 L557.14,156.02 L557.73,156.02 L558.33,156.02 L558.92,156.01 L559.52,156.01 L560.12,156.01 L560.71,156.00 L561.31,156.00 L561.91,156.00 L562.50,156.00 L563.10,155.99 L563.70,155.99 L564.29,155.99 L564.89,155.98 L565.48,155.98 L566.08,155.98 L566.68,155.98 L567.27,155.97 L567.87,155.97 L568.46,155.97 L569.06,155.96 L569.66,155.96 L570.25,155.96 L570.85,155.95 L571.45,155.95 L572.04,155.95 L572.64,155.94 L573.23,155.94 L573.83,155.94 L574.43,155.94 L575.02,155.93 L575.62,155.93 L576.21,155.93 L576.81,155.92 L577.41,155.92 L578.00,155.92 L578.60,155.91 L579.19,155.91 L579.79,155.91 L580.39,155.90 L580.98,155.90 L581.58,155.90 L582.17,155.89 L582.77,155.89 L583.37,155.89 L583.96,155.89 L584.56,155.88 L585.15,155.88 L585.75,155.88 L586.35,155.87 L586.94,155.87 L587.54,155.87 L588.13,155.87 L588.73,155.86 L589.33,155.86 L589.92,155.86 L590.52,155.86 L591.11,155.85 L591.71,155.85 L592.31,155.85 L592.90,155.84 L593.50,155.84 L594.10,155.84 L594.69,155.84 L595.29,155.84 L595.88,155.83 L596.48,155.83 L597.08,155.83 L597.67,155.83 L598.27,155.82 L598.86,155.82 L599.46,155.82 L600.06,155.82 L600.65,155.82 L601.25,155.82 L601.85,155.81 L602.44,155.81 L603.04,155.81 L603.63,155.81 L604.23,155.81 L604.83,155.81 L605.42,155.80 L606.02,155.80 L606.62,155.80 L607.21,155.80 L607.81,155.80 L608.41,155.80 L609.00,155.80 L609.60,155.80 L610.19,155.80 L610.79,155.80 L611.39,155.80 L611.98,155.80 L612.58,155.79 L613.18,155.79 L613.77,155.79 L614.37,155.79 L614.97,155.79 L615.56,155.79 L616.16,155.79 L616.76,155.79 L617.35,155.79 L617.95,155.80 L618.55,155.80 L619.14,155.80 L619.74,155.80 L620.34,155.80 L620.93,155.80 L621.53,155.80 L622.13,155.80 L622.73,155.80 L623.32,155.80 L623.92,155.81 L624.52,155.81 L625.11,155.81 L625.71,155.81 L626.31,155.81 L626.90,155.81 L627.50,155.82 L628.10,155.82 L628.70,155.82 L629.29,155.82 L629.89,155.83 L630.49,155.83 L631.08,155.83 L631.68,155.84 L632.28,155.84 L632.88,155.84 L633.47,155.85 L634.07,155.85 L634.67,155.85 L635.27,155.86 L635.86,155.86 L636.46,155.86 L637.06,155.87 L637.66,155.87 L638.26,155.88 L638.85,155.88 L639.45,155.89 L640.05,155.89 L640.65,155.90 L641.24,155.90 L641.84,155.91 L642.44,155.91 L643.04,155.92 L643.64,155.93 L644.23,155.93 L644.83,155.94 L645.43,155.94 L646.03,155.95 L646.63,155.96 L647.23,155.96 L647.82,155.97 L648.42,155.98 L649.02,155.99 L649.62,155.99 L650.22,156.00 L650.82,156.01 L651.42,156.02 L652.01,156.02 L652.61,156.03 L653.21,156.04 L653.81,156.05 L654.41,156.06 L655.01,156.07 L655.61,156.08 L656.21,156.09 L656.80,156.10 L657.40,156.11 L658.00,156.12 L658.60,156.13 L659.20,156.14 L659.80,156.15 L660.40,156.16 L661.00,156.17 L661.60,156.18 L662.20,156.19 L662.80,156.20 L663.40,156.21 L664.00,156.23 L664.60,156.24 L665.20,156.25 L665.80,156.26 L666.40,156.28 L667.00,156.29 L667.60,156.30 L668.20,156.32 L668.80,156.33 L669.40,156.34 L670.00,156.36 L670.60,156.37 L671.20,156.39 L671.80,156.40 L672.40,156.41 L673.00,156.43 L673.60,156.44 L674.20,156.46 L674.80,156.48 L675.40,156.49 L676.00,156.51" stroke="#7E2F8E" class="ln" clip-path="url(#cb)"/>
<path d="M404.54,223.61 L404.93,223.16 L405.30,222.70 L405.67,222.24 L406.03,221.77 L406.38,221.30 L406.72,220.82 L407.05,220.33 L407.38,219.85 L407.70,219.35 L408.01,218.85 L408.31,218.35 L408.61,217.85 L408.91,217.34 L409.20,216.82 L409.49,216.31 L409.77,215.79 L410.04,215.27 L410.32,214.74 L410.59,214.22 L410.86,213.69 L411.12,213.16 L411.38,212.62 L411.65,212.09 L411.91,211.55 L412.17,211.02 L412.43,210.48 L412.68,209.94 L412.94,209.40 L413.20,208.86 L413.47,208.32 L413.73,207.78 L413.99,207.25 L414.26,206.71 L414.52,206.17 L414.79,205.63 L415.06,205.10 L415.33,204.56 L415.61,204.03 L415.88,203.49 L416.16,202.96 L416.44,202.43 L416.73,201.90 L417.01,201.38 L417.30,200.85 L417.59,200.33 L417.89,199.81 L418.19,199.29 L418.49,198.78 L418.80,198.27 L419.11,197.76 L419.42,197.25 L419.74,196.75 L420.06,196.25 L420.39,195.75 L420.72,195.26 L421.06,194.77 L421.40,194.29 L421.74,193.81 L422.09,193.33 L422.45,192.86 L422.81,192.39 L423.18,191.93 L423.55,191.47 L423.93,191.02 L424.31,190.58 L424.70,190.13 L425.09,189.70 L425.50,189.27 L425.90,188.84 L426.31,188.42 L426.73,188.00 L427.15,187.60 L427.58,187.19 L428.02,186.79 L428.45,186.40 L428.90,186.01 L429.35,185.63 L429.80,185.26 L430.26,184.89 L430.72,184.52 L431.19,184.16 L431.66,183.81 L432.14,183.47 L432.62,183.12 L433.10,182.79 L433.59,182.46 L434.09,182.14 L434.58,181.82 L435.09,181.51 L435.59,181.21 L436.10,180.91 L436.61,180.62 L437.13,180.34 L437.65,180.06 L438.18,179.78 L438.70,179.52 L439.23,179.26 L439.77,179.00 L440.30,178.76 L440.84,178.51 L441.39,178.28 L441.93,178.04 L442.48,177.82 L443.03,177.59 L443.58,177.38 L444.13,177.17 L444.69,176.96 L445.24,176.75 L445.80,176.56 L446.36,176.36 L446.92,176.17 L447.49,175.98 L448.05,175.80 L448.61,175.62 L449.18,175.44 L449.74,175.27 L450.31,175.10 L450.88,174.94 L451.45,174.77 L452.01,174.61 L452.58,174.46 L453.15,174.30 L453.72,174.15 L454.30,174.00 L454.87,173.86 L455.44,173.72 L456.01,173.58 L456.59,173.44 L457.16,173.31 L457.74,173.18 L458.32,173.06 L458.89,172.93 L459.47,172.81 L460.05,172.69 L460.63,172.58 L461.20,172.46 L461.78,172.35 L462.36,172.24 L462.94,172.14 L463.53,172.03 L464.11,171.93 L464.69,171.83 L465.27,171.74 L465.85,171.64 L466.44,171.55 L467.02,171.46 L467.61,171.38 L468.19,171.29 L468.78,171.21 L469.36,171.13 L469.95,171.05 L470.54,170.97 L471.12,170.90 L471.71,170.82 L472.30,170.75 L472.89,170.68 L473.48,170.62 L474.06,170.55 L474.65,170.49 L475.24,170.43 L475.83,170.37 L476.42,170.31 L477.01,170.25 L477.61,170.19 L478.20,170.14 L478.79,170.09 L479.38,170.04 L479.97,169.99 L480.56,169.94 L481.16,169.89 L481.75,169.85 L482.34,169.80 L482.94,169.76 L483.53,169.72 L484.12,169.68 L484.72,169.64 L485.31,169.60 L485.90,169.56 L486.50,169.52 L487.09,169.49 L487.69,169.45 L488.28,169.42 L488.88,169.39 L489.47,169.35 L490.07,169.32 L490.66,169.29 L491.26,169.26 L491.85,169.23 L492.45,169.20 L493.04,169.17 L493.64,169.15 L494.23,169.12 L494.83,169.09 L495.42,169.07 L496.02,169.04 L496.61,169.02 L497.21,168.99 L497.80,168.97 L498.40,168.94 L498.99,168.92 L499.59,168.89 L500.18,168.87 L500.78,168.84 L501.37,168.82 L501.97,168.80 L502.56,168.77 L503.16,168.75 L503.75,168.72 L504.35,168.70 L504.94,168.68 L505.53,168.65 L506.13,168.63 L506.72,168.61 L507.32,168.58 L507.91,168.56 L508.50,168.54 L509.10,168.52 L509.69,168.49 L510.29,168.47 L510.88,168.45 L511.47,168.43 L512.07,168.40 L512.66,168.38 L513.25,168.36 L513.85,168.34 L514.44,168.32 L515.03,168.29 L515.63,168.27 L516.22,168.25 L516.81,168.23 L517.40,168.21 L518.00,168.19 L518.59,168.16 L519.18,168.14 L519.78,168.12 L520.37,168.10 L520.96,168.08 L521.55,168.06 L522.15,168.04 L522.74,168.02 L523.33,168.00 L523.92,167.98 L524.51,167.96 L525.11,167.94 L525.70,167.92 L526.29,167.90 L526.88,167.88 L527.48,167.86 L528.07,167.84 L528.66,167.82 L529.25,167.80 L529.84,167.78 L530.43,167.76 L531.03,167.74 L531.62,167.72 L532.21,167.70 L532.80,167.69 L533.39,167.67 L533.98,167.65 L534.57,167.63 L535.17,167.61 L535.76,167.59 L536.35,167.57 L536.94,167.56 L537.53,167.54 L538.12,167.52 L538.71,167.50 L539.30,167.48 L539.89,167.47 L540.49,167.45 L541.08,167.43 L541.67,167.41 L542.26,167.40 L542.85,167.38 L543.44,167.36 L544.03,167.35 L544.62,167.33 L545.21,167.31 L545.80,167.30 L546.39,167.28 L546.98,167.26 L547.57,167.25 L548.16,167.23 L548.76,167.21 L549.35,167.20 L549.94,167.18 L550.53,167.17 L551.12,167.15 L551.71,167.13 L552.30,167.12 L552.89,167.10 L553.48,167.09 L554.07,167.07 L554.66,167.06 L555.25,167.04 L555.84,167.03 L556.43,167.01 L557.02,167.00 L557.61,166.98 L558.20,166.97 L558.79,166.95 L559.38,166.94 L559.97,166.93 L560.56,166.91 L561.15,166.90 L561.74,166.88 L562.33,166.87 L562.92,166.86 L563.51,166.84 L564.10,166.83 L564.69,166.82 L565.28,166.80 L565.87,166.79 L566.46,166.78 L567.05,166.76 L567.64,166.75 L568.23,166.74 L568.82,166.72 L569.41,166.71 L570.00,166.70 L570.59,166.69 L571.18,166.67 L571.77,166.66 L572.36,166.65 L572.94,166.64 L573.53,166.63 L574.12,166.61 L574.71,166.60 L575.30,166.59 L575.89,166.58 L576.48,166.57 L577.07,166.56 L577.66,166.54 L578.25,166.53 L578.84,166.52 L579.43,166.51 L580.02,166.50 L580.61,166.49 L581.20,166.48 L581.79,166.47 L582.38,166.46 L582.97,166.45 L583.56,166.44 L584.15,166.43 L584.74,166.42 L585.33,166.41 L585.92,166.40 L586.51,166.39 L587.10,166.38 L587.69,166.37 L588.28,166.36 L588.87,166.35 L589.46,166.34 L590.05,166.33 L590.64,166.32 L591.23,166.31 L591.82,166.31 L592.41,166.30 L593.00,166.29 L593.59,166.28 L594.18,166.27 L594.77,166.26 L595.36,166.25 L595.95,166.25 L596.54,166.24 L597.13,166.23 L597.72,166.22 L598.31,166.22 L598.90,166.21 L599.49,166.20 L600.08,166.19 L600.67,166.19 L601.26,166.18 L601.85,166.17 L602.44,166.16 L603.03,166.16 L603.62,166.15 L604.21,166.14 L604.80,166.14 L605.39,166.13 L605.98,166.12 L606.57,166.12 L607.16,166.11 L607.75,166.11 L608.34,166.10 L608.93,166.09 L609.52,166.09 L610.11,166.08 L610.70,166.08 L611.29,166.07 L611.88,166.07 L612.47,166.06 L613.06,166.06 L613.66,166.05 L614.25,166.05 L614.84,166.04 L615.43,166.04 L616.02,166.03 L616.61,166.03 L617.20,166.02 L617.79,166.02 L618.38,166.02 L618.97,166.01 L619.57,166.01 L620.16,166.00 L620.75,166.00 L621.34,166.00 L621.93,165.99 L622.52,165.99 L623.11,165.99 L623.70,165.98 L624.30,165.98 L624.89,165.98 L625.48,165.97 L626.07,165.97 L626.66,165.97 L627.25,165.97 L627.85,165.96 L628.44,165.96 L629.03,165.96 L629.62,165.96 L630.21,165.95 L630.81,165.95 L631.40,165.95 L631.99,165.95 L632.58,165.95 L633.17,165.94 L633.77,165.94 L634.36,165.94 L634.95,165.94 L635.54,165.94 L636.14,165.94 L636.73,165.94 L637.32,165.94 L637.92,165.94 L638.51,165.94 L639.10,165.93 L639.69,165.93 L640.29,165.93 L640.88,165.93 L641.47,165.93 L642.07,165.93 L642.66,165.93 L643.25,165.93 L643.85,165.93 L644.44,165.93 L645.03,165.94 L645.63,165.94 L646.22,165.94 L646.81,165.94 L647.41,165.94 L648.00,165.94 L648.60,165.94 L649.19,165.94 L649.78,165.94 L650.38,165.94 L650.97,165.95 L651.57,165.95 L652.16,165.95 L652.75,165.95 L653.35,165.95 L653.94,165.96 L654.54,165.96 L655.13,165.96 L655.73,165.96 L656.32,165.97 L656.92,165.97 L657.51,165.97 L658.11,165.97 L658.70,165.98 L659.30,165.98 L659.89,165.98 L660.49,165.99 L661.09,165.99 L661.68,165.99 L662.28,166.00 L662.87,166.00 L663.47,166.00 L664.06,166.01 L664.66,166.01 L665.26,166.02 L665.85,166.02 L666.45,166.02 L667.05,166.03 L667.64,166.03 L668.24,166.04 L668.84,166.04 L669.43,166.05 L670.03,166.05 L670.63,166.06 L671.22,166.06 L671.82,166.07 L672.42,166.07 L673.02,166.08 L673.61,166.08 L674.21,166.09 L674.81,166.10 L675.41,166.10 L676.00,166.11" stroke="#77AC30" class="ln" clip-path="url(#cb)"/>
<circle cx="412.6" cy="70.3" r="2.1" fill="none" stroke="#222" stroke-width="0.75"/>
<circle cx="422.6" cy="106.1" r="2.1" fill="none" stroke="#222" stroke-width="0.75"/>
<circle cx="437.7" cy="129.9" r="2.1" fill="none" stroke="#222" stroke-width="0.75"/>
<circle cx="519.5" cy="155.8" r="2.1" fill="none" stroke="#222" stroke-width="0.75"/>
<path d="M583.1,22.6H613.6" stroke="#0072BD" class="ln"/>
<text transform="translate(616.55,27.10) scale(1.250,1)" style="font-family:&quot;Liberation Serif&quot;,serif;font-style:italic;font-size:12px" fill="#262626">α</text>
<path d="M629.00,22.40h8.8M629.00,25.70h8.8" stroke="#262626" stroke-width="0.7"/>
<text transform="translate(642.09,27.10) scale(1.110,1)" style="font-family:&quot;Liberation Serif&quot;,serif;font-size:12.1px" fill="#262626">0.3</text>
<path d="M583.1,35.5H613.6" stroke="#D95319" class="ln"/>
<text transform="translate(616.55,40.00) scale(1.250,1)" style="font-family:&quot;Liberation Serif&quot;,serif;font-style:italic;font-size:12px" fill="#262626">α</text>
<path d="M629.00,35.30h8.8M629.00,38.60h8.8" stroke="#262626" stroke-width="0.7"/>
<text transform="translate(642.09,40.00) scale(1.110,1)" style="font-family:&quot;Liberation Serif&quot;,serif;font-size:12.1px" fill="#262626">0.4</text>
<path d="M583.1,48.3H613.6" stroke="#EDB120" class="ln"/>
<text transform="translate(616.55,52.80) scale(1.250,1)" style="font-family:&quot;Liberation Serif&quot;,serif;font-style:italic;font-size:12px" fill="#262626">α</text>
<path d="M629.00,48.10h8.8M629.00,51.40h8.8" stroke="#262626" stroke-width="0.7"/>
<text transform="translate(642.09,52.80) scale(1.110,1)" style="font-family:&quot;Liberation Serif&quot;,serif;font-size:12.1px" fill="#262626">0.5</text>
<path d="M583.1,60.4H613.6" stroke="#7E2F8E" class="ln"/>
<text transform="translate(616.55,64.90) scale(1.250,1)" style="font-family:&quot;Liberation Serif&quot;,serif;font-style:italic;font-size:12px" fill="#262626">α</text>
<path d="M629.00,60.20h8.8M629.00,63.50h8.8" stroke="#262626" stroke-width="0.7"/>
<text transform="translate(642.09,64.90) scale(1.110,1)" style="font-family:&quot;Liberation Serif&quot;,serif;font-size:12.1px" fill="#262626">0.7</text>
<path d="M583.1,73.5H613.6" stroke="#77AC30" class="ln"/>
<text transform="translate(616.55,78.00) scale(1.250,1)" style="font-family:&quot;Liberation Serif&quot;,serif;font-style:italic;font-size:12px" fill="#262626">α</text>
<path d="M629.00,73.30h8.8M629.00,76.60h8.8" stroke="#262626" stroke-width="0.7"/>
<text transform="translate(642.09,78.00) scale(1.110,1)" style="font-family:&quot;Liberation Serif&quot;,serif;font-size:12.1px" fill="#262626">0.9</text>
<text transform="translate(373.75,121.70) rotate(-90) scale(0.87,1)" text-anchor="middle" style="font-family:&quot;Liberation Sans&quot;,sans-serif;font-size:15.8px" fill="#262626" class="tk">G</text>
<text transform="translate(536.83,264.35) scale(1.100,1)" style="font-family:&quot;Liberation Serif&quot;,serif;font-style:italic;font-size:15.5px" fill="#3a3a3a">ε</text>
<text transform="translate(518.44,290.30) scale(1.030,1)" style="font-family:&quot;Liberation Serif&quot;,serif;font-size:15.5px" fill="#111" class="tk2">(b)</text>
<rect x="43.3" y="338.8" width="272.60" height="231.20" fill="none" stroke="#6c6c6c" stroke-width="1"/>
<path d="M97.82,570.0V567.30M97.82,338.8V341.50M152.34,570.0V567.30M152.34,338.8V341.50M206.86,570.0V567.30M206.86,338.8V341.50M261.38,570.0V567.30M261.38,338.8V341.50M43.3,477.52H46.00M315.9,477.52H313.20M43.3,385.04H46.00M315.9,385.04H313.20" stroke="#262626" stroke-width="0.8" fill="none"/>
<text transform="translate(39.41,585.80)" style="font-family:&quot;Liberation Sans&quot;,sans-serif;font-size:14px" fill="#262626" class="tk">0</text>
<text transform="translate(93.93,585.80)" style="font-family:&quot;Liberation Sans&quot;,sans-serif;font-size:14px" fill="#262626" class="tk">2</text>
<text transform="translate(148.45,585.80)" style="font-family:&quot;Liberation Sans&quot;,sans-serif;font-size:14px" fill="#262626" class="tk">4</text>
<text transform="translate(202.97,585.80)" style="font-family:&quot;Liberation Sans&quot;,sans-serif;font-size:14px" fill="#262626" class="tk">6</text>
<text transform="translate(257.49,585.80)" style="font-family:&quot;Liberation Sans&quot;,sans-serif;font-size:14px" fill="#262626" class="tk">8</text>
<text transform="translate(308.11,585.80)" style="font-family:&quot;Liberation Sans&quot;,sans-serif;font-size:14px" fill="#262626" class="tk" clip-path="url(#fc6)">10</text>
<text transform="translate(20.74,575.00)" style="font-family:&quot;Liberation Sans&quot;,sans-serif;font-size:14px" fill="#262626" class="tk">0.8</text>
<text transform="translate(20.74,482.52)" style="font-family:&quot;Liberation Sans&quot;,sans-serif;font-size:14px" fill="#262626" class="tk">0.9</text>
<text transform="translate(32.41,390.04)" style="font-family:&quot;Liberation Sans&quot;,sans-serif;font-size:14px" fill="#262626" class="tk" clip-path="url(#fc7)">1</text>
<path d="M43.36,533.01 L43.54,532.35 L43.71,531.68 L43.87,531.02 L44.03,530.35 L44.19,529.69 L44.34,529.02 L44.49,528.35 L44.64,527.68 L44.78,527.01 L44.92,526.34 L45.06,525.67 L45.19,525.00 L45.32,524.33 L45.45,523.65 L45.58,522.98 L45.70,522.31 L45.82,521.63 L45.93,520.96 L46.05,520.28 L46.16,519.61 L46.27,518.93 L46.37,518.26 L46.48,517.58 L46.58,516.90 L46.68,516.22 L46.78,515.55 L46.87,514.87 L46.97,514.19 L47.06,513.51 L47.15,512.83 L47.25,512.15 L47.33,511.47 L47.42,510.79 L47.51,510.11 L47.60,509.43 L47.68,508.75 L47.77,508.07 L47.85,507.39 L47.93,506.71 L48.01,506.03 L48.10,505.35 L48.18,504.66 L48.26,503.98 L48.34,503.30 L48.42,502.62 L48.50,501.94 L48.58,501.26 L48.66,500.58 L48.75,499.89 L48.83,499.21 L48.91,498.53 L48.99,497.85 L49.08,497.17 L49.16,496.49 L49.25,495.81 L49.34,495.13 L49.42,494.45 L49.51,493.77 L49.60,493.09 L49.70,492.41 L49.79,491.73 L49.88,491.05 L49.98,490.37 L50.08,489.70 L50.18,489.02 L50.28,488.34 L50.38,487.66 L50.49,486.99 L50.60,486.31 L50.71,485.63 L50.82,484.96 L50.94,484.28 L51.05,483.61 L51.18,482.93 L51.30,482.26 L51.43,481.59 L51.56,480.91 L51.69,480.24 L51.82,479.57 L51.96,478.90 L52.10,478.23 L52.25,477.56 L52.40,476.89 L52.55,476.22 L52.70,475.55 L52.86,474.89 L53.02,474.22 L53.18,473.55 L53.35,472.89 L53.52,472.22 L53.69,471.56 L53.86,470.89 L54.04,470.23 L54.22,469.56 L54.41,468.90 L54.59,468.24 L54.78,467.57 L54.98,466.91 L55.17,466.25 L55.37,465.59 L55.58,464.93 L55.78,464.27 L55.99,463.61 L56.20,462.95 L56.42,462.29 L56.63,461.63 L56.86,460.97 L57.08,460.32 L57.31,459.66 L57.55,459.01 L57.79,458.36 L58.04,457.72 L58.30,457.08 L58.57,456.45 L58.84,455.82 L59.13,455.20 L59.43,454.58 L59.73,453.98 L60.05,453.38 L60.38,452.79 L60.73,452.22 L61.09,451.65 L61.46,451.09 L61.85,450.55 L62.26,450.02 L62.68,449.50 L63.12,448.99 L63.57,448.50 L64.04,448.02 L64.53,447.56 L65.02,447.10 L65.53,446.67 L66.06,446.24 L66.59,445.84 L67.14,445.44 L67.70,445.07 L68.28,444.70 L68.86,444.36 L69.46,444.03 L70.06,443.71 L70.68,443.41 L71.30,443.13 L71.94,442.87 L72.58,442.62 L73.23,442.39 L73.89,442.17 L74.56,441.97 L75.22,441.78 L75.90,441.61 L76.58,441.45 L77.26,441.31 L77.94,441.17 L78.63,441.05 L79.31,440.95 L80.00,440.85 L80.69,440.77 L81.38,440.70 L82.06,440.64 L82.75,440.59 L83.43,440.56 L84.12,440.53 L84.80,440.51 L85.49,440.50 L86.17,440.50 L86.86,440.51 L87.54,440.52 L88.23,440.55 L88.91,440.58 L89.59,440.61 L90.28,440.66 L90.96,440.71 L91.64,440.76 L92.32,440.82 L93.01,440.89 L93.69,440.96 L94.37,441.03 L95.05,441.11 L95.74,441.19 L96.42,441.27 L97.10,441.36 L97.78,441.45 L98.46,441.54 L99.14,441.63 L99.83,441.72 L100.51,441.81 L101.19,441.91 L101.87,442.00 L102.55,442.09 L103.23,442.18 L103.92,442.27 L104.60,442.36 L105.28,442.45 L105.96,442.54 L106.64,442.63 L107.33,442.72 L108.01,442.80 L108.69,442.89 L109.37,442.97 L110.05,443.06 L110.74,443.14 L111.42,443.23 L112.10,443.31 L112.78,443.39 L113.46,443.47 L114.15,443.55 L114.83,443.63 L115.51,443.71 L116.19,443.79 L116.87,443.87 L117.56,443.95 L118.24,444.03 L118.92,444.10 L119.60,444.18 L120.29,444.25 L120.97,444.33 L121.65,444.40 L122.33,444.48 L123.02,444.55 L123.70,444.62 L124.38,444.69 L125.06,444.76 L125.75,444.83 L126.43,444.90 L127.11,444.97 L127.79,445.04 L128.48,445.11 L129.16,445.18 L129.84,445.24 L130.52,445.31 L131.21,445.38 L131.89,445.44 L132.57,445.51 L133.26,445.57 L133.94,445.64 L134.62,445.70 L135.30,445.76 L135.99,445.82 L136.67,445.89 L137.35,445.95 L138.04,446.01 L138.72,446.07 L139.40,446.13 L140.09,446.19 L140.77,446.24 L141.45,446.30 L142.14,446.36 L142.82,446.42 L143.50,446.47 L144.18,446.53 L144.87,446.58 L145.55,446.64 L146.23,446.69 L146.92,446.75 L147.60,446.80 L148.28,446.85 L148.97,446.91 L149.65,446.96 L150.33,447.01 L151.02,447.06 L151.70,447.11 L152.38,447.16 L153.07,447.21 L153.75,447.26 L154.44,447.31 L155.12,447.36 L155.80,447.41 L156.49,447.45 L157.17,447.50 L157.85,447.55 L158.54,447.59 L159.22,447.64 L159.90,447.69 L160.59,447.73 L161.27,447.77 L161.96,447.82 L162.64,447.86 L163.32,447.91 L164.01,447.95 L164.69,447.99 L165.37,448.03 L166.06,448.07 L166.74,448.12 L167.43,448.16 L168.11,448.20 L168.79,448.24 L169.48,448.28 L170.16,448.32 L170.85,448.36 L171.53,448.39 L172.21,448.43 L172.90,448.47 L173.58,448.51 L174.27,448.54 L174.95,448.58 L175.63,448.62 L176.32,448.65 L177.00,448.69 L177.69,448.72 L178.37,448.76 L179.05,448.79 L179.74,448.83 L180.42,448.86 L181.11,448.90 L181.79,448.93 L182.48,448.96 L183.16,448.99 L183.84,449.03 L184.53,449.06 L185.21,449.09 L185.90,449.12 L186.58,449.15 L187.27,449.18 L187.95,449.21 L188.63,449.24 L189.32,449.27 L190.00,449.30 L190.69,449.33 L191.37,449.36 L192.06,449.39 L192.74,449.42 L193.43,449.45 L194.11,449.47 L194.80,449.50 L195.48,449.53 L196.16,449.56 L196.85,449.58 L197.53,449.61 L198.22,449.64 L198.90,449.66 L199.59,449.69 L200.27,449.71 L200.96,449.74 L201.64,449.76 L202.33,449.79 L203.01,449.81 L203.70,449.84 L204.38,449.86 L205.06,449.89 L205.75,449.91 L206.43,449.93 L207.12,449.96 L207.80,449.98 L208.49,450.00 L209.17,450.02 L209.86,450.05 L210.54,450.07 L211.23,450.09 L211.91,450.11 L212.60,450.13 L213.28,450.16 L213.97,450.18 L214.65,450.20 L215.34,450.22 L216.02,450.24 L216.71,450.26 L217.39,450.28 L218.08,450.30 L218.76,450.32 L219.45,450.34 L220.13,450.36 L220.82,450.38 L221.50,450.40 L222.19,450.42 L222.87,450.44 L223.56,450.46 L224.24,450.47 L224.93,450.49 L225.61,450.51 L226.30,450.53 L226.98,450.55 L227.67,450.57 L228.35,450.58 L229.04,450.60 L229.72,450.62 L230.41,450.64 L231.09,450.66 L231.78,450.67 L232.46,450.69 L233.15,450.71 L233.83,450.72 L234.52,450.74 L235.20,450.76 L235.89,450.78 L236.58,450.79 L237.26,450.81 L237.95,450.83 L238.63,450.84 L239.32,450.86 L240.00,450.88 L240.69,450.89 L241.37,450.91 L242.06,450.92 L242.74,450.94 L243.43,450.96 L244.11,450.97 L244.80,450.99 L245.48,451.00 L246.17,451.02 L246.85,451.04 L247.54,451.05 L248.23,451.07 L248.91,451.08 L249.60,451.10 L250.28,451.12 L250.97,451.13 L251.65,451.15 L252.34,451.16 L253.02,451.18 L253.71,451.19 L254.39,451.21 L255.08,451.23 L255.76,451.24 L256.45,451.26 L257.14,451.27 L257.82,451.29 L258.51,451.30 L259.19,451.32 L259.88,451.34 L260.56,451.35 L261.25,451.37 L261.93,451.38 L262.62,451.40 L263.30,451.41 L263.99,451.43 L264.68,451.45 L265.36,451.46 L266.05,451.48 L266.73,451.49 L267.42,451.51 L268.10,451.53 L268.79,451.54 L269.47,451.56 L270.16,451.58 L270.84,451.59 L271.53,451.61 L272.22,451.63 L272.90,451.64 L273.59,451.66 L274.27,451.68 L274.96,451.69 L275.64,451.71 L276.33,451.73 L277.01,451.74 L277.70,451.76 L278.39,451.78 L279.07,451.80 L279.76,451.81 L280.44,451.83 L281.13,451.85 L281.81,451.87 L282.50,451.89 L283.18,451.90 L283.87,451.92 L284.56,451.94 L285.24,451.96 L285.93,451.98 L286.61,452.00 L287.30,452.02 L287.98,452.04 L288.67,452.06 L289.35,452.07 L290.04,452.09 L290.73,452.11 L291.41,452.13 L292.10,452.15 L292.78,452.17 L293.47,452.19 L294.15,452.22 L294.84,452.24 L295.52,452.26 L296.21,452.28 L296.90,452.30 L297.58,452.32 L298.27,452.34 L298.95,452.37 L299.64,452.39 L300.32,452.41 L301.01,452.43 L301.69,452.45 L302.38,452.48 L303.07,452.50 L303.75,452.52 L304.44,452.55 L305.12,452.57 L305.81,452.60 L306.49,452.62 L307.18,452.64 L307.86,452.67 L308.55,452.69 L309.23,452.72 L309.92,452.75 L310.61,452.77 L311.29,452.80 L311.98,452.82 L312.66,452.85 L313.35,452.88 L314.03,452.90 L314.72,452.93 L315.40,452.96" stroke="#0072BD" class="ln" clip-path="url(#cc)"/>
<path d="M43.28,521.19 L43.41,520.52 L43.53,519.84 L43.65,519.16 L43.77,518.48 L43.89,517.80 L44.00,517.12 L44.11,516.44 L44.22,515.76 L44.33,515.08 L44.44,514.40 L44.55,513.71 L44.65,513.03 L44.75,512.35 L44.86,511.67 L44.96,510.98 L45.05,510.30 L45.15,509.62 L45.25,508.94 L45.34,508.25 L45.44,507.57 L45.53,506.88 L45.62,506.20 L45.71,505.51 L45.80,504.83 L45.89,504.14 L45.98,503.46 L46.07,502.77 L46.16,502.09 L46.24,501.40 L46.33,500.72 L46.41,500.03 L46.50,499.35 L46.58,498.66 L46.67,497.98 L46.75,497.29 L46.84,496.60 L46.92,495.92 L47.01,495.23 L47.09,494.55 L47.17,493.86 L47.26,493.18 L47.34,492.49 L47.43,491.80 L47.51,491.12 L47.60,490.43 L47.69,489.75 L47.77,489.06 L47.86,488.38 L47.95,487.69 L48.04,487.01 L48.12,486.32 L48.21,485.64 L48.31,484.95 L48.40,484.27 L48.49,483.59 L48.58,482.90 L48.68,482.22 L48.78,481.54 L48.87,480.85 L48.97,480.17 L49.07,479.49 L49.17,478.81 L49.28,478.12 L49.38,477.44 L49.49,476.76 L49.59,476.08 L49.70,475.40 L49.81,474.72 L49.93,474.04 L50.04,473.36 L50.16,472.68 L50.28,472.00 L50.40,471.33 L50.52,470.65 L50.65,469.97 L50.77,469.29 L50.90,468.62 L51.04,467.94 L51.17,467.27 L51.31,466.59 L51.45,465.92 L51.59,465.24 L51.74,464.57 L51.89,463.90 L52.04,463.22 L52.20,462.55 L52.36,461.88 L52.52,461.21 L52.68,460.54 L52.85,459.87 L53.03,459.20 L53.20,458.53 L53.38,457.87 L53.57,457.20 L53.76,456.53 L53.95,455.87 L54.14,455.20 L54.34,454.54 L54.55,453.88 L54.76,453.21 L54.97,452.55 L55.19,451.89 L55.41,451.23 L55.64,450.57 L55.88,449.91 L56.11,449.25 L56.36,448.60 L56.60,447.94 L56.86,447.28 L57.11,446.63 L57.38,445.98 L57.65,445.32 L57.92,444.67 L58.20,444.02 L58.49,443.38 L58.79,442.74 L59.09,442.10 L59.40,441.47 L59.72,440.84 L60.04,440.22 L60.38,439.60 L60.72,439.00 L61.08,438.40 L61.44,437.81 L61.81,437.23 L62.20,436.66 L62.59,436.10 L63.00,435.55 L63.42,435.02 L63.84,434.49 L64.29,433.98 L64.74,433.49 L65.21,433.01 L65.69,432.54 L66.18,432.09 L66.69,431.65 L67.21,431.24 L67.75,430.84 L68.29,430.45 L68.86,430.09 L69.43,429.74 L70.01,429.41 L70.61,429.09 L71.22,428.79 L71.83,428.51 L72.46,428.24 L73.09,428.00 L73.74,427.76 L74.39,427.55 L75.04,427.35 L75.71,427.16 L76.38,426.99 L77.05,426.84 L77.73,426.71 L78.41,426.59 L79.10,426.48 L79.79,426.39 L80.48,426.32 L81.17,426.26 L81.87,426.22 L82.56,426.20 L83.26,426.18 L83.95,426.18 L84.65,426.20 L85.34,426.22 L86.04,426.25 L86.73,426.29 L87.43,426.34 L88.13,426.39 L88.82,426.45 L89.52,426.51 L90.21,426.57 L90.90,426.63 L91.60,426.69 L92.29,426.76 L92.98,426.83 L93.67,426.90 L94.37,426.96 L95.06,427.04 L95.75,427.11 L96.44,427.18 L97.13,427.25 L97.82,427.33 L98.51,427.41 L99.20,427.48 L99.88,427.56 L100.57,427.64 L101.26,427.72 L101.95,427.80 L102.64,427.89 L103.32,427.97 L104.01,428.05 L104.70,428.14 L105.38,428.22 L106.07,428.31 L106.75,428.39 L107.44,428.48 L108.12,428.57 L108.81,428.65 L109.49,428.74 L110.18,428.83 L110.86,428.92 L111.55,429.01 L112.23,429.10 L112.91,429.18 L113.60,429.27 L114.28,429.36 L114.97,429.45 L115.65,429.54 L116.33,429.63 L117.02,429.72 L117.70,429.81 L118.38,429.90 L119.07,429.99 L119.75,430.08 L120.43,430.17 L121.11,430.25 L121.80,430.34 L122.48,430.43 L123.16,430.52 L123.85,430.60 L124.53,430.69 L125.21,430.78 L125.90,430.86 L126.58,430.95 L127.26,431.03 L127.95,431.11 L128.63,431.20 L129.31,431.28 L130.00,431.36 L130.68,431.44 L131.37,431.52 L132.05,431.60 L132.73,431.67 L133.42,431.75 L134.10,431.83 L134.79,431.91 L135.47,431.98 L136.16,432.06 L136.84,432.13 L137.53,432.20 L138.21,432.28 L138.90,432.35 L139.58,432.42 L140.27,432.49 L140.95,432.56 L141.64,432.63 L142.32,432.70 L143.01,432.77 L143.69,432.84 L144.38,432.90 L145.07,432.97 L145.75,433.04 L146.44,433.10 L147.12,433.17 L147.81,433.23 L148.50,433.29 L149.18,433.36 L149.87,433.42 L150.55,433.48 L151.24,433.54 L151.93,433.60 L152.61,433.66 L153.30,433.72 L153.99,433.78 L154.67,433.84 L155.36,433.90 L156.05,433.96 L156.74,434.01 L157.42,434.07 L158.11,434.13 L158.80,434.18 L159.48,434.24 L160.17,434.29 L160.86,434.34 L161.55,434.40 L162.23,434.45 L162.92,434.50 L163.61,434.55 L164.30,434.60 L164.98,434.65 L165.67,434.70 L166.36,434.75 L167.05,434.80 L167.74,434.85 L168.42,434.90 L169.11,434.95 L169.80,434.99 L170.49,435.04 L171.18,435.09 L171.87,435.13 L172.55,435.18 L173.24,435.22 L173.93,435.27 L174.62,435.31 L175.31,435.35 L176.00,435.40 L176.69,435.44 L177.38,435.48 L178.06,435.52 L178.75,435.56 L179.44,435.60 L180.13,435.64 L180.82,435.68 L181.51,435.72 L182.20,435.76 L182.89,435.80 L183.58,435.84 L184.27,435.88 L184.96,435.92 L185.65,435.95 L186.34,435.99 L187.02,436.03 L187.71,436.06 L188.40,436.10 L189.09,436.13 L189.78,436.17 L190.47,436.20 L191.16,436.24 L191.85,436.27 L192.54,436.30 L193.23,436.34 L193.92,436.37 L194.61,436.40 L195.30,436.43 L195.99,436.46 L196.68,436.50 L197.37,436.53 L198.06,436.56 L198.75,436.59 L199.44,436.62 L200.13,436.65 L200.82,436.68 L201.51,436.71 L202.20,436.73 L202.89,436.76 L203.58,436.79 L204.28,436.82 L204.97,436.85 L205.66,436.87 L206.35,436.90 L207.04,436.93 L207.73,436.95 L208.42,436.98 L209.11,437.01 L209.80,437.03 L210.49,437.06 L211.18,437.08 L211.87,437.11 L212.56,437.13 L213.25,437.16 L213.94,437.18 L214.63,437.21 L215.33,437.23 L216.02,437.25 L216.71,437.28 L217.40,437.30 L218.09,437.32 L218.78,437.34 L219.47,437.37 L220.16,437.39 L220.85,437.41 L221.54,437.43 L222.23,437.46 L222.93,437.48 L223.62,437.50 L224.31,437.52 L225.00,437.54 L225.69,437.56 L226.38,437.58 L227.07,437.60 L227.76,437.62 L228.45,437.64 L229.15,437.66 L229.84,437.68 L230.53,437.70 L231.22,437.72 L231.91,437.74 L232.60,437.76 L233.29,437.78 L233.98,437.80 L234.67,437.82 L235.36,437.83 L236.06,437.85 L236.75,437.87 L237.44,437.89 L238.13,437.91 L238.82,437.93 L239.51,437.94 L240.20,437.96 L240.89,437.98 L241.59,438.00 L242.28,438.02 L242.97,438.03 L243.66,438.05 L244.35,438.07 L245.04,438.08 L245.73,438.10 L246.42,438.12 L247.11,438.14 L247.80,438.15 L248.50,438.17 L249.19,438.19 L249.88,438.20 L250.57,438.22 L251.26,438.24 L251.95,438.25 L252.64,438.27 L253.33,438.29 L254.02,438.31 L254.71,438.32 L255.41,438.34 L256.10,438.36 L256.79,438.37 L257.48,438.39 L258.17,438.41 L258.86,438.42 L259.55,438.44 L260.24,438.46 L260.93,438.47 L261.62,438.49 L262.31,438.51 L263.00,438.52 L263.70,438.54 L264.39,438.56 L265.08,438.57 L265.77,438.59 L266.46,438.61 L267.15,438.62 L267.84,438.64 L268.53,438.66 L269.22,438.68 L269.91,438.69 L270.60,438.71 L271.29,438.73 L271.98,438.74 L272.67,438.76 L273.36,438.78 L274.05,438.80 L274.74,438.82 L275.43,438.83 L276.12,438.85 L276.81,438.87 L277.50,438.89 L278.19,438.91 L278.88,438.92 L279.57,438.94 L280.26,438.96 L280.95,438.98 L281.64,439.00 L282.33,439.02 L283.02,439.04 L283.71,439.06 L284.40,439.08 L285.09,439.10 L285.78,439.12 L286.47,439.14 L287.16,439.16 L287.85,439.18 L288.54,439.20 L289.23,439.22 L289.92,439.24 L290.61,439.26 L291.30,439.28 L291.99,439.30 L292.68,439.32 L293.37,439.34 L294.05,439.37 L294.74,439.39 L295.43,439.41 L296.12,439.43 L296.81,439.45 L297.50,439.48 L298.19,439.50 L298.88,439.52 L299.57,439.55 L300.25,439.57 L300.94,439.59 L301.63,439.62 L302.32,439.64 L303.01,439.67 L303.70,439.69 L304.39,439.72 L305.07,439.74 L305.76,439.77 L306.45,439.80 L307.14,439.82 L307.83,439.85 L308.51,439.87 L309.20,439.90 L309.89,439.93 L310.58,439.96 L311.27,439.98 L311.95,440.01 L312.64,440.04 L313.33,440.07 L314.02,440.10 L314.70,440.13 L315.39,440.16" stroke="#D95319" class="ln" clip-path="url(#cc)"/>
<path d="M43.32,509.00 L43.46,508.31 L43.60,507.63 L43.74,506.95 L43.87,506.26 L44.00,505.57 L44.13,504.89 L44.25,504.20 L44.37,503.51 L44.49,502.82 L44.61,502.13 L44.72,501.45 L44.83,500.75 L44.94,500.06 L45.05,499.37 L45.15,498.68 L45.25,497.99 L45.35,497.30 L45.45,496.60 L45.55,495.91 L45.64,495.22 L45.73,494.52 L45.82,493.83 L45.91,493.13 L46.00,492.44 L46.09,491.75 L46.17,491.05 L46.26,490.35 L46.34,489.66 L46.42,488.96 L46.50,488.27 L46.58,487.57 L46.66,486.87 L46.74,486.18 L46.81,485.48 L46.89,484.78 L46.97,484.09 L47.04,483.39 L47.12,482.69 L47.19,482.00 L47.27,481.30 L47.34,480.60 L47.41,479.90 L47.49,479.21 L47.56,478.51 L47.64,477.81 L47.71,477.12 L47.79,476.42 L47.86,475.72 L47.94,475.03 L48.02,474.33 L48.09,473.64 L48.17,472.94 L48.25,472.25 L48.33,471.55 L48.41,470.86 L48.49,470.16 L48.58,469.47 L48.66,468.77 L48.74,468.08 L48.83,467.39 L48.92,466.70 L49.01,466.00 L49.10,465.31 L49.19,464.62 L49.29,463.93 L49.38,463.24 L49.48,462.55 L49.58,461.86 L49.68,461.17 L49.78,460.48 L49.89,459.79 L49.99,459.10 L50.10,458.41 L50.21,457.73 L50.32,457.04 L50.43,456.35 L50.55,455.66 L50.66,454.97 L50.77,454.29 L50.89,453.60 L51.01,452.91 L51.13,452.22 L51.25,451.53 L51.37,450.84 L51.49,450.16 L51.62,449.47 L51.74,448.78 L51.87,448.09 L52.00,447.40 L52.13,446.71 L52.26,446.02 L52.39,445.33 L52.52,444.64 L52.65,443.94 L52.78,443.25 L52.92,442.56 L53.05,441.86 L53.19,441.17 L53.32,440.47 L53.46,439.78 L53.60,439.08 L53.74,438.39 L53.88,437.69 L54.02,436.99 L54.16,436.29 L54.31,435.59 L54.45,434.90 L54.61,434.20 L54.77,433.51 L54.93,432.82 L55.10,432.13 L55.28,431.44 L55.46,430.76 L55.66,430.09 L55.86,429.42 L56.08,428.76 L56.30,428.10 L56.54,427.45 L56.80,426.80 L57.06,426.17 L57.34,425.54 L57.64,424.92 L57.95,424.31 L58.28,423.71 L58.63,423.12 L58.99,422.54 L59.37,421.98 L59.77,421.42 L60.18,420.88 L60.61,420.35 L61.06,419.83 L61.51,419.32 L61.99,418.83 L62.47,418.34 L62.97,417.88 L63.49,417.42 L64.02,416.98 L64.56,416.56 L65.11,416.15 L65.67,415.76 L66.24,415.38 L66.83,415.01 L67.43,414.66 L68.03,414.33 L68.65,414.02 L69.27,413.72 L69.91,413.44 L70.55,413.18 L71.20,412.94 L71.86,412.71 L72.53,412.50 L73.20,412.30 L73.88,412.13 L74.57,411.96 L75.25,411.82 L75.95,411.68 L76.64,411.56 L77.34,411.46 L78.04,411.36 L78.74,411.28 L79.44,411.21 L80.15,411.16 L80.85,411.11 L81.55,411.07 L82.25,411.05 L82.95,411.03 L83.65,411.02 L84.35,411.02 L85.05,411.03 L85.75,411.05 L86.45,411.07 L87.15,411.11 L87.85,411.15 L88.55,411.19 L89.25,411.25 L89.95,411.31 L90.65,411.37 L91.34,411.44 L92.04,411.52 L92.74,411.60 L93.44,411.68 L94.13,411.77 L94.83,411.86 L95.53,411.95 L96.23,412.05 L96.92,412.15 L97.62,412.25 L98.32,412.35 L99.01,412.46 L99.71,412.56 L100.41,412.67 L101.10,412.77 L101.80,412.88 L102.50,412.98 L103.19,413.09 L103.89,413.19 L104.59,413.30 L105.28,413.40 L105.98,413.50 L106.68,413.60 L107.37,413.70 L108.07,413.80 L108.77,413.90 L109.46,414.00 L110.16,414.10 L110.86,414.20 L111.55,414.30 L112.25,414.39 L112.95,414.49 L113.64,414.58 L114.34,414.68 L115.04,414.77 L115.73,414.87 L116.43,414.96 L117.12,415.05 L117.82,415.15 L118.52,415.24 L119.21,415.33 L119.91,415.42 L120.61,415.51 L121.30,415.60 L122.00,415.69 L122.70,415.78 L123.39,415.86 L124.09,415.95 L124.79,416.04 L125.48,416.12 L126.18,416.21 L126.88,416.30 L127.57,416.38 L128.27,416.46 L128.97,416.55 L129.66,416.63 L130.36,416.71 L131.06,416.79 L131.75,416.88 L132.45,416.96 L133.15,417.04 L133.84,417.12 L134.54,417.20 L135.24,417.27 L135.93,417.35 L136.63,417.43 L137.33,417.51 L138.02,417.59 L138.72,417.66 L139.42,417.74 L140.11,417.81 L140.81,417.89 L141.50,417.96 L142.20,418.04 L142.90,418.11 L143.59,418.18 L144.29,418.25 L144.99,418.33 L145.68,418.40 L146.38,418.47 L147.08,418.54 L147.77,418.61 L148.47,418.68 L149.17,418.75 L149.86,418.82 L150.56,418.88 L151.26,418.95 L151.95,419.02 L152.65,419.09 L153.35,419.15 L154.04,419.22 L154.74,419.28 L155.44,419.35 L156.13,419.41 L156.83,419.48 L157.53,419.54 L158.23,419.60 L158.92,419.67 L159.62,419.73 L160.32,419.79 L161.01,419.85 L161.71,419.91 L162.41,419.97 L163.10,420.03 L163.80,420.09 L164.50,420.15 L165.19,420.21 L165.89,420.27 L166.59,420.33 L167.28,420.39 L167.98,420.44 L168.68,420.50 L169.37,420.56 L170.07,420.61 L170.77,420.67 L171.46,420.72 L172.16,420.78 L172.86,420.83 L173.56,420.89 L174.25,420.94 L174.95,420.99 L175.65,421.05 L176.34,421.10 L177.04,421.15 L177.74,421.20 L178.43,421.25 L179.13,421.30 L179.83,421.36 L180.53,421.41 L181.22,421.46 L181.92,421.51 L182.62,421.55 L183.31,421.60 L184.01,421.65 L184.71,421.70 L185.40,421.75 L186.10,421.79 L186.80,421.84 L187.50,421.89 L188.19,421.93 L188.89,421.98 L189.59,422.03 L190.28,422.07 L190.98,422.12 L191.68,422.16 L192.38,422.21 L193.07,422.25 L193.77,422.29 L194.47,422.34 L195.17,422.38 L195.86,422.42 L196.56,422.46 L197.26,422.51 L197.95,422.55 L198.65,422.59 L199.35,422.63 L200.05,422.67 L200.74,422.71 L201.44,422.75 L202.14,422.79 L202.84,422.83 L203.53,422.87 L204.23,422.91 L204.93,422.95 L205.63,422.99 L206.32,423.03 L207.02,423.06 L207.72,423.10 L208.42,423.14 L209.11,423.17 L209.81,423.21 L210.51,423.25 L211.21,423.28 L211.90,423.32 L212.60,423.36 L213.30,423.39 L214.00,423.43 L214.70,423.46 L215.39,423.50 L216.09,423.53 L216.79,423.56 L217.49,423.60 L218.18,423.63 L218.88,423.66 L219.58,423.70 L220.28,423.73 L220.98,423.76 L221.67,423.79 L222.37,423.83 L223.07,423.86 L223.77,423.89 L224.47,423.92 L225.16,423.95 L225.86,423.98 L226.56,424.01 L227.26,424.04 L227.96,424.08 L228.65,424.11 L229.35,424.13 L230.05,424.16 L230.75,424.19 L231.45,424.22 L232.14,424.25 L232.84,424.28 L233.54,424.31 L234.24,424.34 L234.94,424.37 L235.64,424.39 L236.33,424.42 L237.03,424.45 L237.73,424.48 L238.43,424.50 L239.13,424.53 L239.83,424.56 L240.53,424.58 L241.22,424.61 L241.92,424.64 L242.62,424.66 L243.32,424.69 L244.02,424.71 L244.72,424.74 L245.41,424.76 L246.11,424.79 L246.81,424.81 L247.51,424.84 L248.21,424.86 L248.91,424.89 L249.61,424.91 L250.31,424.94 L251.00,424.96 L251.70,424.99 L252.40,425.01 L253.10,425.03 L253.80,425.06 L254.50,425.08 L255.20,425.10 L255.90,425.13 L256.60,425.15 L257.29,425.17 L257.99,425.19 L258.69,425.22 L259.39,425.24 L260.09,425.26 L260.79,425.28 L261.49,425.31 L262.19,425.33 L262.89,425.35 L263.59,425.37 L264.29,425.39 L264.99,425.42 L265.69,425.44 L266.38,425.46 L267.08,425.48 L267.78,425.50 L268.48,425.52 L269.18,425.54 L269.88,425.56 L270.58,425.58 L271.28,425.60 L271.98,425.63 L272.68,425.65 L273.38,425.67 L274.08,425.69 L274.78,425.71 L275.48,425.73 L276.18,425.75 L276.88,425.77 L277.58,425.79 L278.28,425.81 L278.98,425.83 L279.68,425.85 L280.38,425.87 L281.08,425.89 L281.78,425.91 L282.48,425.93 L283.18,425.95 L283.88,425.96 L284.58,425.98 L285.28,426.00 L285.98,426.02 L286.68,426.04 L287.38,426.06 L288.08,426.08 L288.78,426.10 L289.48,426.12 L290.18,426.14 L290.88,426.16 L291.58,426.18 L292.28,426.20 L292.98,426.21 L293.68,426.23 L294.38,426.25 L295.08,426.27 L295.78,426.29 L296.48,426.31 L297.19,426.33 L297.89,426.35 L298.59,426.37 L299.29,426.39 L299.99,426.40 L300.69,426.42 L301.39,426.44 L302.09,426.46 L302.79,426.48 L303.49,426.50 L304.19,426.52 L304.89,426.54 L305.60,426.56 L306.30,426.58 L307.00,426.59 L307.70,426.61 L308.40,426.63 L309.10,426.65 L309.80,426.67 L310.50,426.69 L311.21,426.71 L311.91,426.73 L312.61,426.75 L313.31,426.77 L314.01,426.79 L314.71,426.81 L315.41,426.83" stroke="#EDB120" class="ln" clip-path="url(#cc)"/>
<path d="M43.30,495.60 L43.53,494.93 L43.74,494.25 L43.93,493.57 L44.10,492.89 L44.25,492.20 L44.40,491.52 L44.53,490.83 L44.65,490.13 L44.76,489.44 L44.86,488.75 L44.95,488.05 L45.04,487.35 L45.12,486.66 L45.19,485.96 L45.26,485.26 L45.32,484.56 L45.38,483.86 L45.44,483.16 L45.49,482.46 L45.55,481.76 L45.60,481.06 L45.65,480.36 L45.70,479.66 L45.75,478.95 L45.81,478.25 L45.86,477.55 L45.92,476.85 L45.98,476.15 L46.05,475.45 L46.12,474.75 L46.19,474.05 L46.27,473.35 L46.35,472.65 L46.44,471.95 L46.53,471.25 L46.62,470.55 L46.71,469.85 L46.80,469.15 L46.90,468.46 L46.99,467.76 L47.09,467.06 L47.19,466.36 L47.29,465.67 L47.38,464.97 L47.48,464.27 L47.58,463.58 L47.67,462.88 L47.77,462.18 L47.86,461.49 L47.95,460.79 L48.04,460.09 L48.14,459.40 L48.23,458.70 L48.32,458.01 L48.41,457.31 L48.50,456.61 L48.59,455.92 L48.68,455.22 L48.78,454.53 L48.87,453.83 L48.96,453.14 L49.06,452.44 L49.15,451.75 L49.25,451.05 L49.35,450.36 L49.44,449.66 L49.54,448.97 L49.65,448.28 L49.75,447.58 L49.85,446.89 L49.96,446.20 L50.07,445.50 L50.18,444.81 L50.29,444.12 L50.41,443.42 L50.53,442.73 L50.65,442.04 L50.77,441.34 L50.90,440.65 L51.03,439.96 L51.16,439.27 L51.29,438.58 L51.43,437.88 L51.57,437.19 L51.72,436.50 L51.86,435.81 L52.01,435.12 L52.17,434.43 L52.32,433.74 L52.48,433.06 L52.64,432.37 L52.81,431.68 L52.98,430.99 L53.15,430.31 L53.32,429.62 L53.50,428.94 L53.68,428.26 L53.87,427.57 L54.05,426.89 L54.24,426.21 L54.44,425.53 L54.64,424.85 L54.84,424.18 L55.04,423.50 L55.25,422.83 L55.46,422.15 L55.67,421.48 L55.89,420.81 L56.11,420.14 L56.33,419.47 L56.56,418.80 L56.79,418.14 L57.02,417.47 L57.26,416.81 L57.50,416.15 L57.74,415.49 L57.99,414.83 L58.24,414.17 L58.49,413.52 L58.75,412.87 L59.01,412.21 L59.28,411.56 L59.55,410.92 L59.82,410.27 L60.09,409.63 L60.37,408.99 L60.66,408.35 L60.94,407.71 L61.23,407.07 L61.53,406.44 L61.82,405.81 L62.12,405.18 L62.43,404.55 L62.74,403.93 L63.06,403.32 L63.40,402.72 L63.75,402.13 L64.11,401.56 L64.50,401.01 L64.92,400.49 L65.36,399.99 L65.83,399.52 L66.33,399.08 L66.87,398.68 L67.44,398.31 L68.05,397.97 L68.68,397.67 L69.34,397.40 L70.02,397.16 L70.71,396.94 L71.42,396.74 L72.14,396.57 L72.86,396.41 L73.58,396.28 L74.30,396.15 L75.01,396.05 L75.73,395.95 L76.44,395.88 L77.16,395.81 L77.87,395.76 L78.58,395.72 L79.29,395.70 L80.00,395.68 L80.71,395.68 L81.41,395.69 L82.12,395.71 L82.82,395.73 L83.53,395.77 L84.23,395.81 L84.93,395.87 L85.63,395.93 L86.33,395.99 L87.03,396.07 L87.73,396.15 L88.43,396.23 L89.13,396.32 L89.83,396.41 L90.53,396.51 L91.22,396.61 L91.92,396.72 L92.62,396.82 L93.31,396.93 L94.01,397.04 L94.70,397.15 L95.40,397.26 L96.10,397.37 L96.79,397.48 L97.49,397.59 L98.18,397.70 L98.88,397.81 L99.57,397.92 L100.27,398.02 L100.97,398.13 L101.66,398.24 L102.36,398.35 L103.05,398.46 L103.75,398.56 L104.44,398.67 L105.14,398.78 L105.83,398.88 L106.53,398.99 L107.23,399.09 L107.92,399.20 L108.62,399.30 L109.31,399.41 L110.01,399.51 L110.70,399.61 L111.40,399.71 L112.09,399.82 L112.79,399.92 L113.48,400.02 L114.18,400.12 L114.88,400.22 L115.57,400.32 L116.27,400.42 L116.96,400.52 L117.66,400.62 L118.35,400.72 L119.05,400.82 L119.75,400.91 L120.44,401.01 L121.14,401.11 L121.83,401.20 L122.53,401.30 L123.23,401.39 L123.92,401.49 L124.62,401.58 L125.31,401.67 L126.01,401.77 L126.71,401.86 L127.40,401.95 L128.10,402.04 L128.80,402.13 L129.49,402.22 L130.19,402.31 L130.89,402.40 L131.58,402.48 L132.28,402.57 L132.98,402.66 L133.68,402.74 L134.37,402.83 L135.07,402.91 L135.77,403.00 L136.47,403.08 L137.16,403.16 L137.86,403.25 L138.56,403.33 L139.26,403.41 L139.95,403.49 L140.65,403.57 L141.35,403.65 L142.05,403.73 L142.75,403.81 L143.44,403.89 L144.14,403.96 L144.84,404.04 L145.54,404.12 L146.24,404.19 L146.93,404.27 L147.63,404.34 L148.33,404.42 L149.03,404.49 L149.73,404.56 L150.43,404.64 L151.13,404.71 L151.83,404.78 L152.52,404.85 L153.22,404.92 L153.92,404.99 L154.62,405.06 L155.32,405.13 L156.02,405.20 L156.72,405.27 L157.42,405.34 L158.12,405.40 L158.82,405.47 L159.52,405.54 L160.22,405.60 L160.92,405.67 L161.62,405.73 L162.32,405.80 L163.01,405.86 L163.71,405.93 L164.41,405.99 L165.11,406.05 L165.81,406.11 L166.51,406.17 L167.21,406.24 L167.91,406.30 L168.61,406.36 L169.31,406.42 L170.02,406.48 L170.72,406.53 L171.42,406.59 L172.12,406.65 L172.82,406.71 L173.52,406.77 L174.22,406.82 L174.92,406.88 L175.62,406.93 L176.32,406.99 L177.02,407.04 L177.72,407.10 L178.42,407.15 L179.12,407.21 L179.82,407.26 L180.52,407.31 L181.23,407.37 L181.93,407.42 L182.63,407.47 L183.33,407.52 L184.03,407.57 L184.73,407.62 L185.43,407.67 L186.13,407.72 L186.83,407.77 L187.54,407.82 L188.24,407.87 L188.94,407.92 L189.64,407.97 L190.34,408.01 L191.04,408.06 L191.74,408.11 L192.45,408.15 L193.15,408.20 L193.85,408.24 L194.55,408.29 L195.25,408.33 L195.95,408.38 L196.66,408.42 L197.36,408.47 L198.06,408.51 L198.76,408.55 L199.46,408.60 L200.17,408.64 L200.87,408.68 L201.57,408.72 L202.27,408.76 L202.97,408.81 L203.68,408.85 L204.38,408.89 L205.08,408.93 L205.78,408.97 L206.49,409.01 L207.19,409.05 L207.89,409.08 L208.59,409.12 L209.29,409.16 L210.00,409.20 L210.70,409.24 L211.40,409.28 L212.10,409.31 L212.81,409.35 L213.51,409.39 L214.21,409.42 L214.91,409.46 L215.62,409.49 L216.32,409.53 L217.02,409.56 L217.72,409.60 L218.43,409.63 L219.13,409.67 L219.83,409.70 L220.53,409.74 L221.24,409.77 L221.94,409.80 L222.64,409.84 L223.35,409.87 L224.05,409.90 L224.75,409.93 L225.45,409.96 L226.16,410.00 L226.86,410.03 L227.56,410.06 L228.27,410.09 L228.97,410.12 L229.67,410.15 L230.37,410.18 L231.08,410.21 L231.78,410.24 L232.48,410.27 L233.19,410.30 L233.89,410.33 L234.59,410.36 L235.29,410.39 L236.00,410.42 L236.70,410.44 L237.40,410.47 L238.11,410.50 L238.81,410.53 L239.51,410.56 L240.22,410.58 L240.92,410.61 L241.62,410.64 L242.32,410.66 L243.03,410.69 L243.73,410.72 L244.43,410.74 L245.14,410.77 L245.84,410.80 L246.54,410.82 L247.25,410.85 L247.95,410.87 L248.65,410.90 L249.36,410.92 L250.06,410.95 L250.76,410.97 L251.46,411.00 L252.17,411.02 L252.87,411.05 L253.57,411.07 L254.28,411.09 L254.98,411.12 L255.68,411.14 L256.39,411.16 L257.09,411.19 L257.79,411.21 L258.50,411.23 L259.20,411.26 L259.90,411.28 L260.60,411.30 L261.31,411.33 L262.01,411.35 L262.71,411.37 L263.42,411.39 L264.12,411.42 L264.82,411.44 L265.53,411.46 L266.23,411.48 L266.93,411.50 L267.64,411.52 L268.34,411.55 L269.04,411.57 L269.74,411.59 L270.45,411.61 L271.15,411.63 L271.85,411.65 L272.56,411.67 L273.26,411.70 L273.96,411.72 L274.66,411.74 L275.37,411.76 L276.07,411.78 L276.77,411.80 L277.48,411.82 L278.18,411.84 L278.88,411.86 L279.58,411.88 L280.29,411.90 L280.99,411.92 L281.69,411.94 L282.40,411.96 L283.10,411.98 L283.80,412.00 L284.50,412.02 L285.21,412.04 L285.91,412.06 L286.61,412.08 L287.31,412.10 L288.02,412.12 L288.72,412.14 L289.42,412.16 L290.12,412.18 L290.83,412.20 L291.53,412.22 L292.23,412.24 L292.93,412.26 L293.64,412.28 L294.34,412.30 L295.04,412.32 L295.74,412.34 L296.45,412.36 L297.15,412.38 L297.85,412.40 L298.55,412.42 L299.25,412.44 L299.96,412.46 L300.66,412.48 L301.36,412.50 L302.06,412.52 L302.77,412.54 L303.47,412.56 L304.17,412.58 L304.87,412.60 L305.57,412.62 L306.27,412.64 L306.98,412.66 L307.68,412.69 L308.38,412.71 L309.08,412.73 L309.78,412.75 L310.49,412.77 L311.19,412.79 L311.89,412.81 L312.59,412.83 L313.29,412.85 L313.99,412.87 L314.69,412.89 L315.40,412.91" stroke="#7E2F8E" class="ln" clip-path="url(#cc)"/>
<path d="M43.33,481.80 L43.46,481.11 L43.58,480.41 L43.70,479.71 L43.82,479.01 L43.93,478.31 L44.04,477.61 L44.15,476.91 L44.25,476.21 L44.35,475.51 L44.45,474.81 L44.54,474.11 L44.64,473.41 L44.73,472.71 L44.81,472.00 L44.90,471.30 L44.98,470.60 L45.06,469.89 L45.14,469.19 L45.22,468.49 L45.29,467.78 L45.37,467.08 L45.44,466.37 L45.51,465.67 L45.58,464.96 L45.65,464.26 L45.71,463.55 L45.78,462.84 L45.84,462.14 L45.91,461.43 L45.97,460.73 L46.03,460.02 L46.09,459.31 L46.15,458.61 L46.21,457.90 L46.27,457.19 L46.33,456.49 L46.39,455.78 L46.45,455.07 L46.51,454.37 L46.57,453.66 L46.63,452.95 L46.70,452.25 L46.76,451.54 L46.82,450.84 L46.88,450.13 L46.95,449.42 L47.01,448.72 L47.08,448.01 L47.15,447.31 L47.22,446.60 L47.30,445.90 L47.37,445.20 L47.45,444.49 L47.53,443.79 L47.62,443.08 L47.70,442.38 L47.80,441.68 L47.89,440.98 L47.99,440.28 L48.09,439.58 L48.20,438.88 L48.31,438.18 L48.43,437.48 L48.55,436.78 L48.67,436.08 L48.79,435.38 L48.92,434.68 L49.05,433.99 L49.18,433.29 L49.31,432.59 L49.45,431.90 L49.58,431.20 L49.72,430.50 L49.86,429.81 L50.00,429.11 L50.14,428.42 L50.28,427.72 L50.41,427.03 L50.55,426.33 L50.69,425.64 L50.83,424.94 L50.96,424.25 L51.10,423.55 L51.23,422.86 L51.36,422.16 L51.49,421.47 L51.62,420.77 L51.75,420.08 L51.88,419.38 L52.00,418.69 L52.13,417.99 L52.26,417.30 L52.39,416.60 L52.52,415.91 L52.65,415.21 L52.79,414.52 L52.92,413.82 L53.06,413.13 L53.19,412.43 L53.34,411.74 L53.48,411.05 L53.62,410.35 L53.77,409.66 L53.92,408.97 L54.08,408.28 L54.24,407.58 L54.40,406.89 L54.57,406.20 L54.74,405.51 L54.91,404.82 L55.10,404.13 L55.28,403.44 L55.47,402.75 L55.67,402.06 L55.87,401.37 L56.08,400.68 L56.29,399.99 L56.51,399.31 L56.74,398.62 L56.97,397.93 L57.22,397.25 L57.46,396.56 L57.72,395.88 L57.99,395.20 L58.26,394.53 L58.55,393.86 L58.85,393.19 L59.15,392.53 L59.47,391.89 L59.80,391.24 L60.15,390.61 L60.51,389.99 L60.88,389.38 L61.27,388.79 L61.67,388.20 L62.09,387.63 L62.53,387.08 L62.98,386.54 L63.44,386.02 L63.92,385.52 L64.41,385.04 L64.91,384.57 L65.43,384.13 L65.97,383.71 L66.51,383.31 L67.07,382.94 L67.65,382.59 L68.23,382.27 L68.83,381.97 L69.44,381.69 L70.06,381.43 L70.69,381.20 L71.33,380.98 L71.97,380.79 L72.63,380.61 L73.30,380.46 L73.97,380.32 L74.65,380.20 L75.34,380.09 L76.03,380.00 L76.73,379.93 L77.44,379.87 L78.15,379.83 L78.86,379.79 L79.58,379.78 L80.30,379.77 L81.02,379.77 L81.74,379.79 L82.47,379.81 L83.19,379.85 L83.92,379.89 L84.64,379.94 L85.37,380.00 L86.09,380.06 L86.81,380.13 L87.53,380.21 L88.25,380.29 L88.96,380.37 L89.68,380.46 L90.39,380.56 L91.10,380.66 L91.81,380.76 L92.51,380.86 L93.22,380.97 L93.92,381.08 L94.62,381.20 L95.33,381.31 L96.03,381.43 L96.73,381.55 L97.43,381.67 L98.12,381.79 L98.82,381.92 L99.52,382.04 L100.22,382.17 L100.91,382.29 L101.61,382.41 L102.31,382.54 L103.00,382.66 L103.70,382.78 L104.40,382.90 L105.09,383.03 L105.79,383.15 L106.49,383.26 L107.19,383.38 L107.88,383.50 L108.58,383.62 L109.28,383.74 L109.98,383.85 L110.67,383.97 L111.37,384.08 L112.07,384.20 L112.77,384.31 L113.47,384.42 L114.17,384.54 L114.87,384.65 L115.56,384.76 L116.26,384.87 L116.96,384.98 L117.66,385.09 L118.36,385.20 L119.06,385.31 L119.76,385.41 L120.46,385.52 L121.16,385.63 L121.86,385.73 L122.56,385.84 L123.26,385.94 L123.96,386.04 L124.66,386.15 L125.36,386.25 L126.06,386.35 L126.76,386.45 L127.46,386.55 L128.16,386.65 L128.86,386.75 L129.56,386.85 L130.26,386.95 L130.96,387.05 L131.66,387.15 L132.36,387.24 L133.06,387.34 L133.77,387.43 L134.47,387.53 L135.17,387.62 L135.87,387.72 L136.57,387.81 L137.27,387.90 L137.97,387.99 L138.68,388.08 L139.38,388.17 L140.08,388.27 L140.78,388.35 L141.48,388.44 L142.19,388.53 L142.89,388.62 L143.59,388.71 L144.29,388.79 L145.00,388.88 L145.70,388.97 L146.40,389.05 L147.10,389.14 L147.81,389.22 L148.51,389.30 L149.21,389.39 L149.92,389.47 L150.62,389.55 L151.32,389.63 L152.03,389.72 L152.73,389.80 L153.43,389.88 L154.14,389.96 L154.84,390.03 L155.54,390.11 L156.25,390.19 L156.95,390.27 L157.66,390.35 L158.36,390.42 L159.06,390.50 L159.77,390.57 L160.47,390.65 L161.18,390.72 L161.88,390.80 L162.58,390.87 L163.29,390.94 L163.99,391.02 L164.70,391.09 L165.40,391.16 L166.11,391.23 L166.81,391.30 L167.52,391.37 L168.22,391.44 L168.93,391.51 L169.63,391.58 L170.34,391.65 L171.04,391.71 L171.75,391.78 L172.45,391.85 L173.16,391.91 L173.86,391.98 L174.57,392.05 L175.27,392.11 L175.98,392.18 L176.68,392.24 L177.39,392.30 L178.10,392.37 L178.80,392.43 L179.51,392.49 L180.21,392.55 L180.92,392.62 L181.63,392.68 L182.33,392.74 L183.04,392.80 L183.74,392.86 L184.45,392.92 L185.16,392.98 L185.86,393.03 L186.57,393.09 L187.28,393.15 L187.98,393.21 L188.69,393.26 L189.39,393.32 L190.10,393.38 L190.81,393.43 L191.51,393.49 L192.22,393.54 L192.93,393.60 L193.63,393.65 L194.34,393.71 L195.05,393.76 L195.75,393.81 L196.46,393.87 L197.17,393.92 L197.88,393.97 L198.58,394.02 L199.29,394.07 L200.00,394.12 L200.70,394.17 L201.41,394.22 L202.12,394.27 L202.83,394.32 L203.53,394.37 L204.24,394.42 L204.95,394.47 L205.66,394.51 L206.36,394.56 L207.07,394.61 L207.78,394.66 L208.49,394.70 L209.19,394.75 L209.90,394.79 L210.61,394.84 L211.32,394.89 L212.02,394.93 L212.73,394.97 L213.44,395.02 L214.15,395.06 L214.86,395.11 L215.56,395.15 L216.27,395.19 L216.98,395.23 L217.69,395.28 L218.39,395.32 L219.10,395.36 L219.81,395.40 L220.52,395.44 L221.23,395.48 L221.93,395.52 L222.64,395.56 L223.35,395.60 L224.06,395.64 L224.77,395.68 L225.48,395.72 L226.18,395.76 L226.89,395.80 L227.60,395.83 L228.31,395.87 L229.02,395.91 L229.73,395.95 L230.43,395.98 L231.14,396.02 L231.85,396.06 L232.56,396.09 L233.27,396.13 L233.98,396.16 L234.68,396.20 L235.39,396.23 L236.10,396.27 L236.81,396.30 L237.52,396.34 L238.23,396.37 L238.93,396.40 L239.64,396.44 L240.35,396.47 L241.06,396.50 L241.77,396.54 L242.48,396.57 L243.19,396.60 L243.89,396.63 L244.60,396.66 L245.31,396.70 L246.02,396.73 L246.73,396.76 L247.44,396.79 L248.14,396.82 L248.85,396.85 L249.56,396.88 L250.27,396.91 L250.98,396.94 L251.69,396.97 L252.40,397.00 L253.10,397.03 L253.81,397.06 L254.52,397.08 L255.23,397.11 L255.94,397.14 L256.65,397.17 L257.36,397.20 L258.06,397.23 L258.77,397.25 L259.48,397.28 L260.19,397.31 L260.90,397.33 L261.61,397.36 L262.32,397.39 L263.02,397.41 L263.73,397.44 L264.44,397.47 L265.15,397.49 L265.86,397.52 L266.57,397.54 L267.27,397.57 L267.98,397.59 L268.69,397.62 L269.40,397.64 L270.11,397.67 L270.82,397.69 L271.52,397.72 L272.23,397.74 L272.94,397.77 L273.65,397.79 L274.36,397.82 L275.07,397.84 L275.77,397.86 L276.48,397.89 L277.19,397.91 L277.90,397.93 L278.61,397.96 L279.32,397.98 L280.02,398.00 L280.73,398.02 L281.44,398.05 L282.15,398.07 L282.86,398.09 L283.56,398.11 L284.27,398.14 L284.98,398.16 L285.69,398.18 L286.40,398.20 L287.10,398.22 L287.81,398.25 L288.52,398.27 L289.23,398.29 L289.93,398.31 L290.64,398.33 L291.35,398.35 L292.06,398.37 L292.77,398.40 L293.47,398.42 L294.18,398.44 L294.89,398.46 L295.60,398.48 L296.30,398.50 L297.01,398.52 L297.72,398.54 L298.43,398.56 L299.13,398.58 L299.84,398.60 L300.55,398.62 L301.26,398.64 L301.96,398.66 L302.67,398.68 L303.38,398.70 L304.08,398.72 L304.79,398.74 L305.50,398.76 L306.20,398.78 L306.91,398.80 L307.62,398.82 L308.33,398.84 L309.03,398.86 L309.74,398.88 L310.45,398.90 L311.15,398.92 L311.86,398.94 L312.57,398.96 L313.27,398.98 L313.98,399.00 L314.69,399.02 L315.39,399.04" stroke="#77AC30" class="ln" clip-path="url(#cc)"/>
<path d="M43.31,467.60 L43.41,466.89 L43.50,466.18 L43.59,465.46 L43.68,464.75 L43.76,464.03 L43.84,463.32 L43.91,462.60 L43.99,461.89 L44.06,461.17 L44.13,460.46 L44.19,459.75 L44.25,459.03 L44.32,458.32 L44.37,457.60 L44.43,456.89 L44.49,456.17 L44.54,455.46 L44.59,454.74 L44.65,454.03 L44.70,453.31 L44.75,452.60 L44.80,451.88 L44.85,451.17 L44.90,450.45 L44.94,449.74 L44.99,449.02 L45.04,448.31 L45.09,447.60 L45.14,446.88 L45.19,446.17 L45.24,445.45 L45.30,444.74 L45.35,444.02 L45.41,443.31 L45.46,442.59 L45.52,441.88 L45.58,441.16 L45.65,440.45 L45.71,439.73 L45.78,439.02 L45.85,438.30 L45.92,437.59 L45.99,436.87 L46.07,436.16 L46.15,435.44 L46.22,434.73 L46.31,434.02 L46.39,433.30 L46.47,432.59 L46.56,431.87 L46.64,431.16 L46.73,430.44 L46.82,429.73 L46.91,429.01 L47.00,428.30 L47.09,427.59 L47.18,426.87 L47.27,426.16 L47.37,425.44 L47.46,424.73 L47.55,424.02 L47.65,423.30 L47.74,422.59 L47.84,421.88 L47.93,421.17 L48.02,420.45 L48.12,419.74 L48.21,419.03 L48.30,418.31 L48.40,417.60 L48.49,416.89 L48.58,416.18 L48.67,415.47 L48.76,414.76 L48.85,414.04 L48.94,413.33 L49.02,412.62 L49.11,411.91 L49.20,411.20 L49.28,410.49 L49.37,409.78 L49.46,409.07 L49.55,408.36 L49.64,407.65 L49.72,406.94 L49.81,406.24 L49.91,405.53 L50.00,404.82 L50.09,404.11 L50.19,403.40 L50.29,402.69 L50.39,401.99 L50.49,401.28 L50.60,400.57 L50.70,399.87 L50.81,399.16 L50.93,398.45 L51.04,397.75 L51.16,397.04 L51.28,396.34 L51.41,395.63 L51.54,394.93 L51.67,394.22 L51.81,393.52 L51.96,392.81 L52.10,392.11 L52.26,391.41 L52.41,390.70 L52.57,390.00 L52.74,389.30 L52.91,388.60 L53.09,387.89 L53.27,387.19 L53.46,386.49 L53.66,385.79 L53.86,385.09 L54.07,384.39 L54.28,383.69 L54.51,382.99 L54.73,382.29 L54.97,381.59 L55.22,380.90 L55.47,380.21 L55.73,379.52 L56.00,378.83 L56.28,378.16 L56.57,377.48 L56.87,376.82 L57.18,376.16 L57.50,375.51 L57.83,374.86 L58.17,374.23 L58.53,373.61 L58.90,373.00 L59.28,372.39 L59.67,371.81 L60.08,371.23 L60.50,370.67 L60.94,370.12 L61.39,369.59 L61.85,369.07 L62.33,368.57 L62.83,368.09 L63.34,367.62 L63.87,367.17 L64.42,366.75 L64.98,366.34 L65.56,365.95 L66.15,365.58 L66.75,365.23 L67.36,364.89 L67.99,364.58 L68.63,364.29 L69.27,364.02 L69.93,363.77 L70.60,363.54 L71.27,363.34 L71.96,363.15 L72.65,362.99 L73.34,362.84 L74.04,362.72 L74.75,362.63 L75.46,362.55 L76.18,362.50 L76.89,362.47 L77.61,362.46 L78.33,362.47 L79.06,362.51 L79.78,362.56 L80.50,362.63 L81.23,362.71 L81.95,362.81 L82.68,362.91 L83.40,363.02 L84.12,363.14 L84.84,363.27 L85.56,363.39 L86.28,363.52 L87.00,363.65 L87.71,363.79 L88.43,363.92 L89.14,364.06 L89.85,364.20 L90.56,364.34 L91.27,364.49 L91.98,364.63 L92.68,364.78 L93.39,364.92 L94.10,365.07 L94.80,365.22 L95.51,365.37 L96.21,365.51 L96.91,365.66 L97.61,365.81 L98.32,365.96 L99.02,366.11 L99.72,366.26 L100.42,366.41 L101.13,366.56 L101.83,366.70 L102.53,366.85 L103.23,367.00 L103.94,367.14 L104.64,367.28 L105.34,367.43 L106.04,367.57 L106.75,367.71 L107.45,367.85 L108.15,367.99 L108.86,368.13 L109.56,368.26 L110.26,368.40 L110.97,368.53 L111.67,368.67 L112.38,368.80 L113.08,368.94 L113.79,369.07 L114.49,369.20 L115.20,369.33 L115.90,369.46 L116.61,369.59 L117.31,369.71 L118.02,369.84 L118.72,369.97 L119.43,370.09 L120.14,370.21 L120.84,370.34 L121.55,370.46 L122.25,370.58 L122.96,370.70 L123.67,370.82 L124.37,370.94 L125.08,371.06 L125.79,371.18 L126.50,371.29 L127.20,371.41 L127.91,371.52 L128.62,371.64 L129.33,371.75 L130.03,371.86 L130.74,371.98 L131.45,372.09 L132.16,372.20 L132.87,372.31 L133.57,372.42 L134.28,372.52 L134.99,372.63 L135.70,372.74 L136.41,372.84 L137.12,372.95 L137.83,373.05 L138.54,373.15 L139.25,373.26 L139.96,373.36 L140.67,373.46 L141.38,373.56 L142.09,373.66 L142.80,373.76 L143.51,373.86 L144.22,373.95 L144.93,374.05 L145.64,374.15 L146.35,374.24 L147.06,374.34 L147.77,374.43 L148.48,374.52 L149.19,374.62 L149.90,374.71 L150.61,374.80 L151.32,374.89 L152.04,374.98 L152.75,375.07 L153.46,375.15 L154.17,375.24 L154.88,375.33 L155.59,375.42 L156.31,375.50 L157.02,375.59 L157.73,375.67 L158.44,375.75 L159.16,375.84 L159.87,375.92 L160.58,376.00 L161.29,376.08 L162.01,376.16 L162.72,376.24 L163.43,376.32 L164.15,376.40 L164.86,376.48 L165.57,376.55 L166.29,376.63 L167.00,376.71 L167.71,376.78 L168.43,376.86 L169.14,376.93 L169.85,377.00 L170.57,377.08 L171.28,377.15 L172.00,377.22 L172.71,377.29 L173.42,377.36 L174.14,377.43 L174.85,377.50 L175.57,377.57 L176.28,377.64 L177.00,377.71 L177.71,377.77 L178.43,377.84 L179.14,377.91 L179.86,377.97 L180.57,378.04 L181.29,378.10 L182.00,378.17 L182.72,378.23 L183.43,378.29 L184.15,378.36 L184.86,378.42 L185.58,378.48 L186.29,378.54 L187.01,378.60 L187.72,378.66 L188.44,378.72 L189.16,378.78 L189.87,378.83 L190.59,378.89 L191.30,378.95 L192.02,379.01 L192.74,379.06 L193.45,379.12 L194.17,379.17 L194.88,379.23 L195.60,379.28 L196.32,379.34 L197.03,379.39 L197.75,379.44 L198.47,379.50 L199.18,379.55 L199.90,379.60 L200.62,379.65 L201.33,379.70 L202.05,379.75 L202.77,379.80 L203.48,379.85 L204.20,379.90 L204.92,379.95 L205.64,380.00 L206.35,380.04 L207.07,380.09 L207.79,380.14 L208.50,380.18 L209.22,380.23 L209.94,380.28 L210.66,380.32 L211.37,380.37 L212.09,380.41 L212.81,380.45 L213.53,380.50 L214.24,380.54 L214.96,380.58 L215.68,380.63 L216.40,380.67 L217.11,380.71 L217.83,380.75 L218.55,380.79 L219.27,380.83 L219.98,380.88 L220.70,380.92 L221.42,380.95 L222.14,380.99 L222.86,381.03 L223.57,381.07 L224.29,381.11 L225.01,381.15 L225.73,381.19 L226.45,381.22 L227.16,381.26 L227.88,381.30 L228.60,381.33 L229.32,381.37 L230.04,381.41 L230.75,381.44 L231.47,381.48 L232.19,381.51 L232.91,381.55 L233.63,381.58 L234.34,381.61 L235.06,381.65 L235.78,381.68 L236.50,381.72 L237.22,381.75 L237.94,381.78 L238.65,381.81 L239.37,381.85 L240.09,381.88 L240.81,381.91 L241.53,381.94 L242.24,381.97 L242.96,382.00 L243.68,382.03 L244.40,382.07 L245.12,382.10 L245.84,382.13 L246.55,382.16 L247.27,382.19 L247.99,382.21 L248.71,382.24 L249.43,382.27 L250.15,382.30 L250.86,382.33 L251.58,382.36 L252.30,382.39 L253.02,382.42 L253.74,382.44 L254.46,382.47 L255.17,382.50 L255.89,382.53 L256.61,382.55 L257.33,382.58 L258.05,382.61 L258.76,382.63 L259.48,382.66 L260.20,382.69 L260.92,382.71 L261.64,382.74 L262.36,382.77 L263.07,382.79 L263.79,382.82 L264.51,382.84 L265.23,382.87 L265.95,382.89 L266.66,382.92 L267.38,382.94 L268.10,382.97 L268.82,382.99 L269.53,383.02 L270.25,383.04 L270.97,383.07 L271.69,383.09 L272.41,383.12 L273.12,383.14 L273.84,383.16 L274.56,383.19 L275.28,383.21 L275.99,383.24 L276.71,383.26 L277.43,383.28 L278.15,383.31 L278.86,383.33 L279.58,383.36 L280.30,383.38 L281.02,383.40 L281.73,383.43 L282.45,383.45 L283.17,383.47 L283.89,383.50 L284.60,383.52 L285.32,383.54 L286.04,383.57 L286.75,383.59 L287.47,383.61 L288.19,383.64 L288.90,383.66 L289.62,383.68 L290.34,383.71 L291.05,383.73 L291.77,383.75 L292.49,383.78 L293.20,383.80 L293.92,383.82 L294.64,383.85 L295.35,383.87 L296.07,383.89 L296.79,383.92 L297.50,383.94 L298.22,383.96 L298.94,383.99 L299.65,384.01 L300.37,384.03 L301.08,384.06 L301.80,384.08 L302.51,384.10 L303.23,384.13 L303.95,384.15 L304.66,384.17 L305.38,384.20 L306.09,384.22 L306.81,384.25 L307.52,384.27 L308.24,384.30 L308.95,384.32 L309.67,384.34 L310.38,384.37 L311.10,384.39 L311.81,384.42 L312.53,384.44 L313.24,384.47 L313.96,384.49 L314.67,384.52 L315.39,384.54" stroke="#4DBEEE" class="ln" clip-path="url(#cc)"/>
<path d="M218.1,491.4H248.6" stroke="#0072BD" class="ln"/>
<text transform="translate(251.86,495.40) scale(1.350,1)" style="font-family:&quot;Liberation Serif&quot;,serif;font-style:italic;font-size:11.5px" fill="#262626">τ</text>
<path d="M263.00,490.90h8.8M263.00,493.90h8.8" stroke="#262626" stroke-width="0.7"/>
<text transform="translate(275.39,495.40) scale(1.110,1)" style="font-family:&quot;Liberation Serif&quot;,serif;font-size:12.1px" fill="#262626">0</text>
<path d="M218.1,503.8H248.6" stroke="#D95319" class="ln"/>
<text transform="translate(251.86,507.80) scale(1.350,1)" style="font-family:&quot;Liberation Serif&quot;,serif;font-style:italic;font-size:11.5px" fill="#262626">τ</text>
<path d="M263.00,503.30h8.8M263.00,506.30h8.8" stroke="#262626" stroke-width="0.7"/>
<text transform="translate(275.39,507.80) scale(1.110,1)" style="font-family:&quot;Liberation Serif&quot;,serif;font-size:12.1px" fill="#262626">0.02</text>
<path d="M218.1,516.3H248.6" stroke="#EDB120" class="ln"/>
<text transform="translate(251.86,520.30) scale(1.350,1)" style="font-family:&quot;Liberation Serif&quot;,serif;font-style:italic;font-size:11.5px" fill="#262626">τ</text>
<path d="M263.00,515.80h8.8M263.00,518.80h8.8" stroke="#262626" stroke-width="0.7"/>
<text transform="translate(275.39,520.30) scale(1.110,1)" style="font-family:&quot;Liberation Serif&quot;,serif;font-size:12.1px" fill="#262626">0.04</text>
<path d="M218.1,529H248.6" stroke="#7E2F8E" class="ln"/>
<text transform="translate(251.86,533.00) scale(1.350,1)" style="font-family:&quot;Liberation Serif&quot;,serif;font-style:italic;font-size:11.5px" fill="#262626">τ</text>
<path d="M263.00,528.50h8.8M263.00,531.50h8.8" stroke="#262626" stroke-width="0.7"/>
<text transform="translate(275.39,533.00) scale(1.110,1)" style="font-family:&quot;Liberation Serif&quot;,serif;font-size:12.1px" fill="#262626">0.06</text>
<path d="M218.1,541.8H248.6" stroke="#77AC30" class="ln"/>
<text transform="translate(251.86,545.80) scale(1.350,1)" style="font-family:&quot;Liberation Serif&quot;,serif;font-style:italic;font-size:11.5px" fill="#262626">τ</text>
<path d="M263.00,541.30h8.8M263.00,544.30h8.8" stroke="#262626" stroke-width="0.7"/>
<text transform="translate(275.39,545.80) scale(1.110,1)" style="font-family:&quot;Liberation Serif&quot;,serif;font-size:12.1px" fill="#262626">0.08</text>
<path d="M218.1,554.2H248.6" stroke="#4DBEEE" class="ln"/>
<text transform="translate(251.86,558.20) scale(1.350,1)" style="font-family:&quot;Liberation Serif&quot;,serif;font-style:italic;font-size:11.5px" fill="#262626">τ</text>
<path d="M263.00,553.70h8.8M263.00,556.70h8.8" stroke="#262626" stroke-width="0.7"/>
<text transform="translate(275.39,558.20) scale(1.110,1)" style="font-family:&quot;Liberation Serif&quot;,serif;font-size:12.1px" fill="#262626">0.10</text>
<text transform="translate(13.20,454.60) rotate(-90) scale(0.87,1)" text-anchor="middle" style="font-family:&quot;Liberation Sans&quot;,sans-serif;font-size:15.8px" fill="#262626" class="tk">G</text>
<text transform="translate(175.83,597.55) scale(1.100,1)" style="font-family:&quot;Liberation Serif&quot;,serif;font-style:italic;font-size:15.5px" fill="#3a3a3a">ε</text>
<text transform="translate(158.49,626.00) scale(1.030,1)" style="font-family:&quot;Liberation Serif&quot;,serif;font-size:15.5px" fill="#111" class="tk2">(c)</text>
<rect x="404.4" y="338.8" width="272.00" height="231.20" fill="none" stroke="#6c6c6c" stroke-width="1"/>
<path d="M458.80,570.0V567.30M458.80,338.8V341.50M513.20,570.0V567.30M513.20,338.8V341.50M567.60,570.0V567.30M567.60,338.8V341.50M622.00,570.0V567.30M622.00,338.8V341.50M404.4,477.52H407.10M676.4,477.52H673.70M404.4,385.04H407.10M676.4,385.04H673.70" stroke="#262626" stroke-width="0.8" fill="none"/>
<text transform="translate(400.51,585.80)" style="font-family:&quot;Liberation Sans&quot;,sans-serif;font-size:14px" fill="#262626" class="tk">0</text>
<text transform="translate(454.91,585.80)" style="font-family:&quot;Liberation Sans&quot;,sans-serif;font-size:14px" fill="#262626" class="tk">2</text>
<text transform="translate(509.31,585.80)" style="font-family:&quot;Liberation Sans&quot;,sans-serif;font-size:14px" fill="#262626" class="tk">4</text>
<text transform="translate(563.71,585.80)" style="font-family:&quot;Liberation Sans&quot;,sans-serif;font-size:14px" fill="#262626" class="tk">6</text>
<text transform="translate(618.11,585.80)" style="font-family:&quot;Liberation Sans&quot;,sans-serif;font-size:14px" fill="#262626" class="tk">8</text>
<text transform="translate(668.61,585.80)" style="font-family:&quot;Liberation Sans&quot;,sans-serif;font-size:14px" fill="#262626" class="tk" clip-path="url(#fc8)">10</text>
<text transform="translate(381.84,482.52)" style="font-family:&quot;Liberation Sans&quot;,sans-serif;font-size:14px" fill="#262626" class="tk">0.4</text>
<text transform="translate(381.84,390.04)" style="font-family:&quot;Liberation Sans&quot;,sans-serif;font-size:14px" fill="#262626" class="tk">0.5</text>
<path d="M404.40,513.09 L404.95,512.89 L405.51,512.69 L406.06,512.49 L406.62,512.28 L407.18,512.08 L407.74,511.88 L408.30,511.69 L408.86,511.49 L409.42,511.29 L409.98,511.10 L410.55,510.91 L411.11,510.72 L411.68,510.54 L412.25,510.36 L412.82,510.18 L413.39,510.01 L413.96,509.84 L414.53,509.68 L415.11,509.52 L415.68,509.37 L416.26,509.22 L416.84,509.08 L417.42,508.95 L418.00,508.82 L418.59,508.70 L419.17,508.59 L419.76,508.49 L420.34,508.40 L420.93,508.31 L421.52,508.24 L422.12,508.17 L422.71,508.11 L423.31,508.07 L423.90,508.03 L424.50,508.00 L425.10,507.99 L425.71,507.99 L426.31,508.00 L426.91,508.03 L427.50,508.08 L428.09,508.16 L428.67,508.26 L429.23,508.40 L429.78,508.57 L430.31,508.78 L430.82,509.02 L431.32,509.31 L431.79,509.63 L432.25,509.97 L432.69,510.35 L433.11,510.76 L433.52,511.18 L433.91,511.63 L434.28,512.10 L434.64,512.58 L434.98,513.07 L435.30,513.58 L435.61,514.09 L435.91,514.61 L436.19,515.13 L436.45,515.66 L436.71,516.20 L436.95,516.73 L437.17,517.28 L437.39,517.82 L437.60,518.37 L437.80,518.93 L437.98,519.49 L438.17,520.05 L438.34,520.61 L438.50,521.18 L438.67,521.75 L438.82,522.32 L438.97,522.89 L439.12,523.47 L439.26,524.04 L439.40,524.62 L439.54,525.20 L439.68,525.79 L439.82,526.37 L439.95,526.95 L440.09,527.54 L440.23,528.12 L440.38,528.70 L440.52,529.29 L440.67,529.87 L440.83,530.46 L440.99,531.04 L441.15,531.62 L441.33,532.20 L441.51,532.78 L441.70,533.36 L441.89,533.93 L442.10,534.51 L442.32,535.08 L442.54,535.64 L442.78,536.20 L443.03,536.76 L443.30,537.30 L443.57,537.84 L443.86,538.37 L444.16,538.88 L444.48,539.39 L444.81,539.88 L445.16,540.35 L445.53,540.82 L445.91,541.26 L446.31,541.69 L446.72,542.10 L447.16,542.49 L447.61,542.86 L448.07,543.21 L448.55,543.54 L449.04,543.85 L449.54,544.13 L450.05,544.38 L450.58,544.61 L451.11,544.80 L451.66,544.98 L452.21,545.12 L452.76,545.22 L453.33,545.30 L453.90,545.35 L454.47,545.36 L455.05,545.35 L455.63,545.32 L456.22,545.26 L456.81,545.18 L457.40,545.08 L457.99,544.97 L458.59,544.84 L459.18,544.70 L459.78,544.56 L460.37,544.40 L460.97,544.24 L461.56,544.08 L462.15,543.91 L462.74,543.75 L463.33,543.58 L463.91,543.42 L464.49,543.26 L465.08,543.09 L465.66,542.93 L466.24,542.77 L466.81,542.60 L467.39,542.44 L467.97,542.28 L468.54,542.12 L469.12,541.96 L469.69,541.80 L470.26,541.64 L470.83,541.49 L471.41,541.33 L471.98,541.18 L472.55,541.02 L473.12,540.87 L473.69,540.72 L474.26,540.57 L474.83,540.42 L475.40,540.27 L475.97,540.13 L476.55,539.98 L477.12,539.84 L477.69,539.70 L478.27,539.56 L478.84,539.43 L479.41,539.29 L479.99,539.16 L480.57,539.03 L481.14,538.90 L481.72,538.77 L482.30,538.64 L482.87,538.51 L483.45,538.39 L484.03,538.27 L484.61,538.15 L485.19,538.03 L485.77,537.91 L486.35,537.80 L486.93,537.68 L487.51,537.57 L488.10,537.46 L488.68,537.34 L489.26,537.24 L489.84,537.13 L490.43,537.02 L491.01,536.92 L491.59,536.81 L492.18,536.71 L492.76,536.61 L493.35,536.51 L493.93,536.41 L494.52,536.31 L495.10,536.22 L495.69,536.12 L496.28,536.03 L496.86,535.93 L497.45,535.84 L498.04,535.75 L498.62,535.66 L499.21,535.57 L499.80,535.49 L500.39,535.40 L500.98,535.32 L501.56,535.23 L502.15,535.15 L502.74,535.06 L503.33,534.98 L503.92,534.90 L504.51,534.82 L505.09,534.74 L505.68,534.67 L506.27,534.59 L506.86,534.51 L507.45,534.44 L508.04,534.36 L508.63,534.29 L509.22,534.22 L509.81,534.14 L510.40,534.07 L510.99,534.00 L511.58,533.93 L512.17,533.86 L512.75,533.80 L513.34,533.73 L513.93,533.66 L514.52,533.60 L515.11,533.53 L515.70,533.47 L516.29,533.41 L516.88,533.34 L517.48,533.28 L518.07,533.22 L518.66,533.16 L519.25,533.10 L519.84,533.04 L520.43,532.98 L521.02,532.93 L521.61,532.87 L522.20,532.81 L522.79,532.76 L523.38,532.71 L523.97,532.65 L524.56,532.60 L525.15,532.55 L525.75,532.49 L526.34,532.44 L526.93,532.39 L527.52,532.34 L528.11,532.30 L528.70,532.25 L529.29,532.20 L529.89,532.15 L530.48,532.11 L531.07,532.06 L531.66,532.02 L532.25,531.97 L532.85,531.93 L533.44,531.89 L534.03,531.84 L534.62,531.80 L535.21,531.76 L535.81,531.72 L536.40,531.68 L536.99,531.64 L537.58,531.60 L538.17,531.57 L538.77,531.53 L539.36,531.49 L539.95,531.45 L540.54,531.42 L541.14,531.38 L541.73,531.35 L542.32,531.32 L542.92,531.28 L543.51,531.25 L544.10,531.22 L544.69,531.18 L545.29,531.15 L545.88,531.12 L546.47,531.09 L547.07,531.06 L547.66,531.03 L548.25,531.00 L548.85,530.98 L549.44,530.95 L550.03,530.92 L550.63,530.90 L551.22,530.87 L551.81,530.84 L552.41,530.82 L553.00,530.79 L553.59,530.77 L554.19,530.74 L554.78,530.72 L555.37,530.70 L555.97,530.68 L556.56,530.65 L557.16,530.63 L557.75,530.61 L558.34,530.59 L558.94,530.57 L559.53,530.55 L560.13,530.53 L560.72,530.51 L561.31,530.49 L561.91,530.47 L562.50,530.46 L563.10,530.44 L563.69,530.42 L564.28,530.41 L564.88,530.39 L565.47,530.37 L566.07,530.36 L566.66,530.34 L567.26,530.33 L567.85,530.31 L568.44,530.30 L569.04,530.28 L569.63,530.27 L570.23,530.26 L570.82,530.24 L571.42,530.23 L572.01,530.22 L572.61,530.21 L573.20,530.20 L573.79,530.19 L574.39,530.17 L574.98,530.16 L575.58,530.15 L576.17,530.14 L576.77,530.13 L577.36,530.12 L577.96,530.11 L578.55,530.10 L579.15,530.10 L579.74,530.09 L580.34,530.08 L580.93,530.07 L581.53,530.06 L582.12,530.05 L582.72,530.05 L583.31,530.04 L583.91,530.03 L584.50,530.03 L585.10,530.02 L585.69,530.01 L586.29,530.01 L586.88,530.00 L587.48,530.00 L588.07,529.99 L588.67,529.98 L589.26,529.98 L589.86,529.97 L590.45,529.97 L591.05,529.96 L591.64,529.96 L592.24,529.96 L592.83,529.95 L593.43,529.95 L594.02,529.94 L594.62,529.94 L595.21,529.94 L595.81,529.93 L596.40,529.93 L597.00,529.92 L597.59,529.92 L598.19,529.92 L598.78,529.91 L599.38,529.91 L599.97,529.91 L600.57,529.91 L601.16,529.90 L601.76,529.90 L602.35,529.90 L602.95,529.89 L603.54,529.89 L604.14,529.89 L604.73,529.89 L605.33,529.88 L605.92,529.88 L606.52,529.88 L607.11,529.88 L607.71,529.88 L608.30,529.87 L608.90,529.87 L609.49,529.87 L610.09,529.87 L610.69,529.86 L611.28,529.86 L611.88,529.86 L612.47,529.86 L613.07,529.85 L613.66,529.85 L614.26,529.85 L614.85,529.85 L615.45,529.84 L616.04,529.84 L616.64,529.84 L617.23,529.84 L617.83,529.83 L618.42,529.83 L619.01,529.83 L619.61,529.83 L620.20,529.82 L620.80,529.82 L621.39,529.82 L621.99,529.81 L622.58,529.81 L623.18,529.81 L623.77,529.80 L624.37,529.80 L624.96,529.79 L625.56,529.79 L626.15,529.79 L626.75,529.78 L627.34,529.78 L627.94,529.77 L628.53,529.77 L629.13,529.76 L629.72,529.76 L630.31,529.75 L630.91,529.75 L631.50,529.74 L632.10,529.74 L632.69,529.73 L633.29,529.73 L633.88,529.72 L634.48,529.71 L635.07,529.71 L635.66,529.70 L636.26,529.69 L636.85,529.68 L637.45,529.68 L638.04,529.67 L638.64,529.66 L639.23,529.65 L639.82,529.64 L640.42,529.64 L641.01,529.63 L641.61,529.62 L642.20,529.61 L642.79,529.60 L643.39,529.59 L643.98,529.58 L644.58,529.57 L645.17,529.56 L645.76,529.55 L646.36,529.53 L646.95,529.52 L647.54,529.51 L648.14,529.50 L648.73,529.49 L649.33,529.47 L649.92,529.46 L650.51,529.45 L651.11,529.43 L651.70,529.42 L652.29,529.40 L652.89,529.39 L653.48,529.37 L654.07,529.36 L654.67,529.34 L655.26,529.32 L655.85,529.31 L656.44,529.29 L657.04,529.27 L657.63,529.25 L658.22,529.24 L658.82,529.22 L659.41,529.20 L660.00,529.18 L660.59,529.16 L661.19,529.14 L661.78,529.12 L662.37,529.10 L662.96,529.07 L663.56,529.05 L664.15,529.03 L664.74,529.01 L665.33,528.98 L665.93,528.96 L666.52,528.93 L667.11,528.91 L667.70,528.88 L668.29,528.86 L668.89,528.83 L669.48,528.80 L670.07,528.78 L670.66,528.75 L671.25,528.72 L671.85,528.69 L672.44,528.66 L673.03,528.63 L673.62,528.60 L674.21,528.57 L674.80,528.54 L675.39,528.51 L675.99,528.48" stroke="#0072BD" class="ln" clip-path="url(#cd)"/>
<path d="M404.41,483.60 L405.00,483.31 L405.58,482.99 L406.15,482.66 L406.72,482.31 L407.28,481.94 L407.84,481.56 L408.39,481.17 L408.93,480.77 L409.48,480.36 L410.02,479.95 L410.57,479.54 L411.11,479.12 L411.65,478.71 L412.20,478.30 L412.75,477.90 L413.30,477.51 L413.86,477.13 L414.42,476.76 L414.99,476.41 L415.56,476.08 L416.15,475.76 L416.74,475.47 L417.34,475.20 L417.96,474.96 L418.58,474.75 L419.22,474.56 L419.87,474.42 L420.54,474.30 L421.21,474.22 L421.89,474.19 L422.56,474.20 L423.23,474.25 L423.88,474.35 L424.51,474.50 L425.12,474.71 L425.70,474.97 L426.26,475.29 L426.78,475.65 L427.29,476.05 L427.76,476.49 L428.21,476.97 L428.64,477.49 L429.04,478.03 L429.41,478.60 L429.77,479.19 L430.10,479.81 L430.42,480.43 L430.71,481.07 L430.98,481.72 L431.23,482.38 L431.46,483.04 L431.67,483.69 L431.87,484.35 L432.06,485.01 L432.23,485.67 L432.39,486.34 L432.54,487.00 L432.68,487.66 L432.81,488.32 L432.94,488.99 L433.07,489.65 L433.20,490.31 L433.32,490.97 L433.45,491.63 L433.57,492.28 L433.70,492.94 L433.82,493.60 L433.95,494.25 L434.08,494.91 L434.21,495.56 L434.34,496.21 L434.46,496.87 L434.59,497.52 L434.72,498.17 L434.85,498.82 L434.98,499.47 L435.11,500.12 L435.24,500.77 L435.37,501.43 L435.50,502.08 L435.63,502.73 L435.76,503.38 L435.88,504.03 L436.01,504.68 L436.14,505.33 L436.27,505.98 L436.40,506.63 L436.53,507.29 L436.65,507.94 L436.78,508.59 L436.91,509.24 L437.03,509.90 L437.16,510.55 L437.28,511.21 L437.41,511.87 L437.53,512.52 L437.65,513.18 L437.78,513.84 L437.90,514.50 L438.02,515.16 L438.14,515.83 L438.26,516.49 L438.37,517.15 L438.49,517.82 L438.61,518.49 L438.72,519.16 L438.84,519.83 L438.95,520.50 L439.06,521.17 L439.17,521.85 L439.29,522.52 L439.40,523.20 L439.51,523.88 L439.63,524.55 L439.75,525.23 L439.87,525.90 L439.99,526.58 L440.12,527.25 L440.24,527.92 L440.38,528.59 L440.51,529.26 L440.65,529.93 L440.80,530.60 L440.95,531.26 L441.11,531.92 L441.27,532.58 L441.44,533.24 L441.61,533.89 L441.80,534.54 L441.99,535.18 L442.18,535.82 L442.39,536.46 L442.60,537.10 L442.83,537.72 L443.06,538.35 L443.30,538.97 L443.55,539.58 L443.82,540.19 L444.09,540.79 L444.38,541.39 L444.67,541.98 L444.98,542.56 L445.30,543.14 L445.64,543.71 L445.98,544.27 L446.34,544.83 L446.72,545.38 L447.10,545.92 L447.51,546.44 L447.93,546.95 L448.37,547.42 L448.84,547.87 L449.32,548.27 L449.83,548.62 L450.37,548.92 L450.93,549.17 L451.53,549.34 L452.14,549.46 L452.77,549.52 L453.41,549.53 L454.05,549.49 L454.68,549.40 L455.31,549.27 L455.94,549.10 L456.56,548.90 L457.17,548.67 L457.78,548.40 L458.39,548.12 L458.99,547.81 L459.60,547.48 L460.20,547.14 L460.80,546.78 L461.39,546.42 L461.99,546.05 L462.59,545.68 L463.18,545.32 L463.78,544.95 L464.38,544.59 L464.97,544.23 L465.57,543.88 L466.17,543.53 L466.77,543.18 L467.37,542.84 L467.96,542.50 L468.56,542.16 L469.16,541.83 L469.76,541.49 L470.37,541.17 L470.97,540.84 L471.57,540.52 L472.17,540.21 L472.78,539.89 L473.38,539.58 L473.98,539.27 L474.59,538.97 L475.19,538.67 L475.80,538.37 L476.41,538.08 L477.02,537.79 L477.62,537.50 L478.23,537.21 L478.84,536.93 L479.45,536.65 L480.06,536.38 L480.68,536.11 L481.29,535.84 L481.90,535.57 L482.52,535.31 L483.13,535.05 L483.75,534.80 L484.36,534.55 L484.98,534.30 L485.60,534.05 L486.22,533.81 L486.84,533.57 L487.46,533.33 L488.08,533.10 L488.71,532.87 L489.33,532.64 L489.96,532.42 L490.58,532.20 L491.21,531.98 L491.84,531.76 L492.47,531.55 L493.10,531.34 L493.73,531.14 L494.36,530.94 L494.99,530.74 L495.63,530.54 L496.26,530.35 L496.90,530.15 L497.54,529.97 L498.17,529.78 L498.81,529.60 L499.45,529.42 L500.09,529.24 L500.74,529.07 L501.38,528.90 L502.02,528.73 L502.67,528.56 L503.31,528.40 L503.96,528.24 L504.61,528.08 L505.25,527.93 L505.90,527.77 L506.55,527.62 L507.20,527.47 L507.85,527.33 L508.50,527.18 L509.16,527.04 L509.81,526.90 L510.46,526.77 L511.12,526.63 L511.77,526.50 L512.43,526.37 L513.09,526.24 L513.74,526.12 L514.40,526.00 L515.06,525.87 L515.72,525.75 L516.38,525.64 L517.04,525.52 L517.70,525.41 L518.36,525.30 L519.02,525.19 L519.68,525.08 L520.35,524.98 L521.01,524.87 L521.68,524.77 L522.34,524.67 L523.01,524.57 L523.67,524.48 L524.34,524.38 L525.00,524.29 L525.67,524.20 L526.34,524.11 L527.00,524.02 L527.67,523.93 L528.34,523.85 L529.01,523.76 L529.68,523.68 L530.35,523.60 L531.02,523.52 L531.69,523.44 L532.36,523.37 L533.03,523.29 L533.70,523.22 L534.37,523.14 L535.04,523.07 L535.71,523.00 L536.39,522.93 L537.06,522.86 L537.73,522.80 L538.40,522.73 L539.08,522.67 L539.75,522.60 L540.42,522.54 L541.10,522.48 L541.77,522.42 L542.44,522.36 L543.12,522.30 L543.79,522.24 L544.46,522.18 L545.14,522.13 L545.81,522.07 L546.49,522.02 L547.16,521.96 L547.83,521.91 L548.51,521.86 L549.18,521.81 L549.86,521.75 L550.53,521.70 L551.20,521.65 L551.88,521.60 L552.55,521.55 L553.22,521.51 L553.90,521.46 L554.57,521.41 L555.25,521.36 L555.92,521.31 L556.59,521.27 L557.26,521.22 L557.94,521.18 L558.61,521.13 L559.28,521.08 L559.96,521.04 L560.63,520.99 L561.30,520.95 L561.97,520.91 L562.64,520.86 L563.32,520.82 L563.99,520.78 L564.66,520.73 L565.33,520.69 L566.00,520.65 L566.68,520.61 L567.35,520.57 L568.02,520.53 L568.69,520.49 L569.36,520.45 L570.03,520.41 L570.70,520.37 L571.37,520.33 L572.04,520.29 L572.71,520.25 L573.39,520.21 L574.06,520.17 L574.73,520.13 L575.40,520.10 L576.07,520.06 L576.74,520.02 L577.41,519.99 L578.08,519.95 L578.75,519.92 L579.42,519.88 L580.09,519.84 L580.76,519.81 L581.43,519.77 L582.10,519.74 L582.77,519.71 L583.44,519.67 L584.11,519.64 L584.77,519.61 L585.44,519.57 L586.11,519.54 L586.78,519.51 L587.45,519.48 L588.12,519.44 L588.79,519.41 L589.46,519.38 L590.13,519.35 L590.80,519.32 L591.47,519.29 L592.14,519.26 L592.80,519.23 L593.47,519.20 L594.14,519.17 L594.81,519.14 L595.48,519.11 L596.15,519.08 L596.82,519.05 L597.49,519.03 L598.16,519.00 L598.82,518.97 L599.49,518.94 L600.16,518.91 L600.83,518.89 L601.50,518.86 L602.17,518.83 L602.84,518.81 L603.50,518.78 L604.17,518.76 L604.84,518.73 L605.51,518.70 L606.18,518.68 L606.85,518.65 L607.52,518.63 L608.18,518.61 L608.85,518.58 L609.52,518.56 L610.19,518.53 L610.86,518.51 L611.53,518.49 L612.20,518.46 L612.86,518.44 L613.53,518.42 L614.20,518.39 L614.87,518.37 L615.54,518.35 L616.21,518.33 L616.88,518.31 L617.55,518.28 L618.21,518.26 L618.88,518.24 L619.55,518.22 L620.22,518.20 L620.89,518.18 L621.56,518.16 L622.23,518.14 L622.90,518.12 L623.57,518.10 L624.24,518.08 L624.90,518.06 L625.57,518.04 L626.24,518.02 L626.91,518.00 L627.58,517.98 L628.25,517.96 L628.92,517.94 L629.59,517.92 L630.26,517.90 L630.93,517.89 L631.60,517.87 L632.27,517.85 L632.94,517.83 L633.61,517.81 L634.28,517.80 L634.95,517.78 L635.62,517.76 L636.29,517.75 L636.96,517.73 L637.63,517.71 L638.30,517.69 L638.97,517.68 L639.64,517.66 L640.31,517.64 L640.98,517.63 L641.65,517.61 L642.32,517.60 L642.99,517.58 L643.67,517.56 L644.34,517.55 L645.01,517.53 L645.68,517.52 L646.35,517.50 L647.02,517.49 L647.69,517.47 L648.37,517.46 L649.04,517.44 L649.71,517.43 L650.38,517.41 L651.05,517.40 L651.73,517.38 L652.40,517.37 L653.07,517.35 L653.74,517.34 L654.42,517.33 L655.09,517.31 L655.76,517.30 L656.43,517.28 L657.11,517.27 L657.78,517.26 L658.45,517.24 L659.13,517.23 L659.80,517.21 L660.47,517.20 L661.15,517.19 L661.82,517.17 L662.50,517.16 L663.17,517.15 L663.85,517.13 L664.52,517.12 L665.20,517.11 L665.87,517.09 L666.54,517.08 L667.22,517.07 L667.90,517.06 L668.57,517.04 L669.25,517.03 L669.92,517.02 L670.60,517.00 L671.27,516.99 L671.95,516.98 L672.63,516.97 L673.30,516.95 L673.98,516.94 L674.66,516.93 L675.33,516.92 L676.01,516.90" stroke="#D95319" class="ln" clip-path="url(#cd)"/>
<path d="M404.40,449.20 L404.90,448.64 L405.39,448.09 L405.87,447.52 L406.35,446.96 L406.84,446.39 L407.32,445.82 L407.81,445.26 L408.30,444.70 L408.80,444.15 L409.30,443.60 L409.82,443.06 L410.35,442.54 L410.89,442.02 L411.45,441.52 L412.02,441.04 L412.62,440.57 L413.23,440.13 L413.87,439.70 L414.53,439.30 L415.22,438.92 L415.92,438.57 L416.64,438.27 L417.36,438.01 L418.08,437.82 L418.80,437.68 L419.50,437.62 L420.19,437.64 L420.85,437.75 L421.48,437.94 L422.08,438.20 L422.64,438.55 L423.16,438.97 L423.64,439.47 L424.09,440.03 L424.50,440.63 L424.88,441.28 L425.24,441.95 L425.57,442.64 L425.90,443.34 L426.21,444.04 L426.50,444.74 L426.79,445.45 L427.06,446.15 L427.32,446.86 L427.57,447.57 L427.81,448.29 L428.04,449.00 L428.26,449.72 L428.47,450.44 L428.67,451.16 L428.86,451.88 L429.04,452.61 L429.21,453.33 L429.38,454.06 L429.53,454.79 L429.68,455.52 L429.83,456.25 L429.97,456.98 L430.10,457.71 L430.22,458.45 L430.34,459.19 L430.46,459.92 L430.57,460.66 L430.68,461.40 L430.78,462.14 L430.88,462.88 L430.98,463.62 L431.08,464.36 L431.17,465.10 L431.26,465.84 L431.35,466.59 L431.44,467.33 L431.53,468.07 L431.61,468.81 L431.70,469.56 L431.79,470.30 L431.88,471.04 L431.97,471.79 L432.06,472.53 L432.15,473.27 L432.25,474.02 L432.35,474.76 L432.45,475.50 L432.55,476.24 L432.66,476.98 L432.76,477.72 L432.87,478.46 L432.98,479.20 L433.10,479.94 L433.21,480.68 L433.33,481.42 L433.44,482.16 L433.56,482.90 L433.68,483.64 L433.80,484.38 L433.93,485.11 L434.05,485.85 L434.17,486.59 L434.30,487.33 L434.42,488.06 L434.55,488.80 L434.68,489.54 L434.81,490.27 L434.93,491.01 L435.06,491.75 L435.19,492.48 L435.32,493.22 L435.45,493.95 L435.57,494.69 L435.70,495.42 L435.83,496.16 L435.96,496.89 L436.08,497.63 L436.21,498.36 L436.34,499.10 L436.46,499.83 L436.58,500.57 L436.71,501.30 L436.83,502.04 L436.95,502.77 L437.07,503.51 L437.19,504.24 L437.30,504.97 L437.42,505.71 L437.53,506.44 L437.64,507.18 L437.75,507.91 L437.86,508.65 L437.97,509.38 L438.07,510.11 L438.17,510.85 L438.27,511.58 L438.37,512.32 L438.47,513.05 L438.57,513.78 L438.66,514.52 L438.76,515.25 L438.86,515.99 L438.96,516.72 L439.05,517.46 L439.15,518.19 L439.25,518.92 L439.36,519.66 L439.46,520.39 L439.57,521.12 L439.68,521.86 L439.80,522.59 L439.91,523.32 L440.04,524.06 L440.16,524.79 L440.29,525.52 L440.43,526.26 L440.57,526.99 L440.72,527.72 L440.87,528.45 L441.03,529.19 L441.20,529.92 L441.37,530.65 L441.55,531.38 L441.74,532.11 L441.93,532.85 L442.14,533.58 L442.35,534.31 L442.57,535.04 L442.80,535.77 L443.05,536.50 L443.30,537.23 L443.56,537.96 L443.83,538.69 L444.11,539.42 L444.41,540.14 L444.72,540.86 L445.05,541.57 L445.39,542.26 L445.76,542.92 L446.14,543.57 L446.55,544.18 L446.99,544.76 L447.45,545.30 L447.95,545.79 L448.47,546.24 L449.03,546.64 L449.62,546.98 L450.25,547.26 L450.90,547.47 L451.58,547.62 L452.27,547.70 L452.95,547.70 L453.64,547.63 L454.31,547.49 L454.99,547.29 L455.65,547.03 L456.31,546.73 L456.97,546.38 L457.61,545.99 L458.26,545.58 L458.89,545.15 L459.53,544.70 L460.16,544.24 L460.78,543.78 L461.40,543.32 L462.01,542.86 L462.62,542.40 L463.23,541.93 L463.83,541.47 L464.44,541.00 L465.03,540.54 L465.63,540.08 L466.22,539.61 L466.82,539.15 L467.41,538.69 L468.00,538.23 L468.59,537.77 L469.18,537.32 L469.77,536.86 L470.35,536.41 L470.94,535.96 L471.53,535.51 L472.13,535.07 L472.72,534.63 L473.31,534.19 L473.91,533.76 L474.51,533.33 L475.11,532.90 L475.71,532.48 L476.32,532.06 L476.93,531.65 L477.55,531.25 L478.17,530.84 L478.79,530.45 L479.42,530.06 L480.05,529.68 L480.69,529.30 L481.33,528.92 L481.98,528.56 L482.63,528.20 L483.28,527.84 L483.94,527.49 L484.60,527.14 L485.27,526.80 L485.93,526.47 L486.61,526.14 L487.28,525.81 L487.96,525.49 L488.64,525.18 L489.32,524.87 L490.01,524.56 L490.69,524.26 L491.38,523.97 L492.07,523.67 L492.77,523.39 L493.46,523.10 L494.16,522.83 L494.86,522.55 L495.56,522.28 L496.26,522.02 L496.96,521.76 L497.67,521.50 L498.37,521.25 L499.08,521.00 L499.78,520.75 L500.49,520.51 L501.20,520.27 L501.91,520.04 L502.62,519.81 L503.33,519.58 L504.04,519.36 L504.75,519.14 L505.46,518.92 L506.18,518.71 L506.89,518.50 L507.61,518.30 L508.33,518.10 L509.05,517.90 L509.76,517.70 L510.48,517.51 L511.20,517.32 L511.92,517.14 L512.65,516.96 L513.37,516.78 L514.09,516.60 L514.82,516.43 L515.54,516.26 L516.27,516.09 L516.99,515.93 L517.72,515.76 L518.45,515.61 L519.17,515.45 L519.90,515.30 L520.63,515.15 L521.36,515.00 L522.09,514.85 L522.82,514.71 L523.55,514.57 L524.29,514.43 L525.02,514.30 L525.75,514.16 L526.49,514.03 L527.22,513.91 L527.95,513.78 L528.69,513.65 L529.43,513.53 L530.16,513.41 L530.90,513.30 L531.63,513.18 L532.37,513.07 L533.11,512.95 L533.85,512.84 L534.59,512.74 L535.32,512.63 L536.06,512.52 L536.80,512.42 L537.54,512.32 L538.28,512.22 L539.02,512.12 L539.76,512.03 L540.51,511.93 L541.25,511.84 L541.99,511.74 L542.73,511.65 L543.47,511.56 L544.21,511.48 L544.96,511.39 L545.70,511.30 L546.44,511.22 L547.18,511.13 L547.93,511.05 L548.67,510.97 L549.41,510.89 L550.16,510.81 L550.90,510.73 L551.64,510.65 L552.39,510.57 L553.13,510.50 L553.87,510.42 L554.62,510.35 L555.36,510.27 L556.10,510.20 L556.85,510.12 L557.59,510.05 L558.33,509.98 L559.08,509.91 L559.82,509.84 L560.56,509.77 L561.31,509.69 L562.05,509.63 L562.79,509.56 L563.54,509.49 L564.28,509.42 L565.02,509.35 L565.77,509.29 L566.51,509.22 L567.26,509.15 L568.00,509.09 L568.74,509.02 L569.49,508.96 L570.23,508.90 L570.97,508.83 L571.72,508.77 L572.46,508.71 L573.20,508.65 L573.95,508.58 L574.69,508.52 L575.43,508.46 L576.18,508.40 L576.92,508.35 L577.67,508.29 L578.41,508.23 L579.15,508.17 L579.90,508.11 L580.64,508.06 L581.38,508.00 L582.13,507.94 L582.87,507.89 L583.61,507.83 L584.36,507.78 L585.10,507.73 L585.85,507.67 L586.59,507.62 L587.33,507.57 L588.08,507.51 L588.82,507.46 L589.56,507.41 L590.31,507.36 L591.05,507.31 L591.80,507.26 L592.54,507.21 L593.28,507.16 L594.03,507.11 L594.77,507.06 L595.52,507.02 L596.26,506.97 L597.00,506.92 L597.75,506.87 L598.49,506.83 L599.24,506.78 L599.98,506.74 L600.72,506.69 L601.47,506.65 L602.21,506.60 L602.96,506.56 L603.70,506.51 L604.44,506.47 L605.19,506.43 L605.93,506.38 L606.68,506.34 L607.42,506.30 L608.16,506.26 L608.91,506.22 L609.65,506.18 L610.40,506.14 L611.14,506.09 L611.89,506.05 L612.63,506.02 L613.37,505.98 L614.12,505.94 L614.86,505.90 L615.61,505.86 L616.35,505.82 L617.10,505.78 L617.84,505.75 L618.59,505.71 L619.33,505.67 L620.07,505.64 L620.82,505.60 L621.56,505.56 L622.31,505.53 L623.05,505.49 L623.80,505.46 L624.54,505.42 L625.29,505.39 L626.03,505.36 L626.78,505.32 L627.52,505.29 L628.27,505.25 L629.01,505.22 L629.76,505.19 L630.50,505.16 L631.25,505.12 L631.99,505.09 L632.74,505.06 L633.48,505.03 L634.23,505.00 L634.97,504.97 L635.72,504.93 L636.46,504.90 L637.21,504.87 L637.95,504.84 L638.70,504.81 L639.44,504.78 L640.19,504.75 L640.93,504.72 L641.68,504.69 L642.42,504.66 L643.17,504.64 L643.91,504.61 L644.66,504.58 L645.40,504.55 L646.15,504.52 L646.90,504.49 L647.64,504.47 L648.39,504.44 L649.13,504.41 L649.88,504.38 L650.62,504.36 L651.37,504.33 L652.12,504.30 L652.86,504.28 L653.61,504.25 L654.35,504.22 L655.10,504.20 L655.85,504.17 L656.59,504.15 L657.34,504.12 L658.08,504.09 L658.83,504.07 L659.58,504.04 L660.32,504.02 L661.07,503.99 L661.82,503.97 L662.56,503.94 L663.31,503.92 L664.05,503.89 L664.80,503.87 L665.55,503.84 L666.29,503.82 L667.04,503.79 L667.79,503.77 L668.53,503.75 L669.28,503.72 L670.03,503.70 L670.77,503.67 L671.52,503.65 L672.27,503.63 L673.01,503.60 L673.76,503.58 L674.51,503.56 L675.26,503.53 L676.00,503.51" stroke="#EDB120" class="ln" clip-path="url(#cd)"/>
<path d="M404.40,409.80 L404.92,409.32 L405.43,408.79 L405.93,408.21 L406.43,407.58 L406.92,406.92 L407.41,406.23 L407.91,405.52 L408.40,404.80 L408.90,404.07 L409.41,403.35 L409.92,402.63 L410.43,401.93 L410.96,401.26 L411.50,400.62 L412.06,400.02 L412.63,399.46 L413.21,398.97 L413.82,398.53 L414.44,398.17 L415.09,397.88 L415.76,397.68 L416.45,397.58 L417.17,397.57 L417.91,397.67 L418.66,397.88 L419.39,398.18 L420.08,398.58 L420.72,399.07 L421.29,399.65 L421.78,400.31 L422.19,401.04 L422.55,401.82 L422.86,402.64 L423.13,403.48 L423.36,404.32 L423.58,405.16 L423.78,406.00 L423.96,406.82 L424.13,407.64 L424.29,408.45 L424.44,409.26 L424.59,410.07 L424.73,410.88 L424.87,411.68 L425.00,412.49 L425.14,413.30 L425.27,414.10 L425.41,414.91 L425.54,415.71 L425.67,416.52 L425.80,417.32 L425.93,418.13 L426.05,418.93 L426.18,419.74 L426.30,420.54 L426.43,421.35 L426.55,422.15 L426.67,422.96 L426.79,423.76 L426.91,424.57 L427.03,425.37 L427.15,426.18 L427.27,426.98 L427.38,427.79 L427.50,428.59 L427.61,429.40 L427.73,430.20 L427.84,431.01 L427.95,431.81 L428.06,432.62 L428.18,433.42 L428.29,434.23 L428.40,435.04 L428.51,435.84 L428.62,436.65 L428.73,437.45 L428.84,438.26 L428.95,439.07 L429.06,439.87 L429.17,440.68 L429.28,441.49 L429.38,442.30 L429.49,443.10 L429.60,443.91 L429.71,444.72 L429.82,445.53 L429.93,446.34 L430.04,447.15 L430.15,447.96 L430.25,448.77 L430.36,449.58 L430.47,450.39 L430.58,451.20 L430.70,452.01 L430.81,452.83 L430.92,453.64 L431.03,454.45 L431.14,455.26 L431.25,456.08 L431.37,456.89 L431.48,457.70 L431.59,458.52 L431.71,459.33 L431.82,460.15 L431.93,460.96 L432.05,461.78 L432.16,462.59 L432.27,463.41 L432.39,464.22 L432.50,465.04 L432.62,465.86 L432.73,466.67 L432.84,467.49 L432.96,468.30 L433.07,469.12 L433.18,469.93 L433.30,470.75 L433.41,471.57 L433.52,472.38 L433.64,473.20 L433.75,474.01 L433.86,474.83 L433.97,475.64 L434.08,476.46 L434.20,477.27 L434.31,478.09 L434.42,478.90 L434.53,479.72 L434.64,480.53 L434.74,481.34 L434.85,482.16 L434.96,482.97 L435.07,483.78 L435.17,484.59 L435.28,485.40 L435.39,486.22 L435.49,487.03 L435.59,487.84 L435.70,488.65 L435.80,489.46 L435.90,490.27 L436.00,491.07 L436.10,491.88 L436.20,492.69 L436.30,493.50 L436.40,494.30 L436.49,495.11 L436.59,495.91 L436.68,496.72 L436.78,497.52 L436.87,498.32 L436.96,499.12 L437.05,499.93 L437.14,500.73 L437.23,501.53 L437.32,502.33 L437.41,503.13 L437.51,503.93 L437.60,504.73 L437.69,505.53 L437.79,506.33 L437.88,507.13 L437.98,507.93 L438.08,508.73 L438.18,509.53 L438.29,510.34 L438.39,511.14 L438.50,511.94 L438.61,512.75 L438.73,513.55 L438.85,514.36 L438.97,515.17 L439.10,515.98 L439.23,516.78 L439.37,517.60 L439.51,518.41 L439.65,519.22 L439.80,520.04 L439.96,520.86 L440.12,521.67 L440.29,522.50 L440.46,523.32 L440.64,524.14 L440.83,524.97 L441.02,525.80 L441.22,526.63 L441.42,527.46 L441.64,528.30 L441.86,529.14 L442.09,529.98 L442.33,530.82 L442.58,531.66 L442.84,532.50 L443.11,533.32 L443.40,534.13 L443.71,534.92 L444.04,535.69 L444.39,536.43 L444.76,537.14 L445.16,537.81 L445.58,538.45 L446.04,539.04 L446.52,539.59 L447.04,540.08 L447.59,540.52 L448.18,540.91 L448.81,541.22 L449.48,541.47 L450.18,541.65 L450.94,541.76 L451.73,541.79 L452.55,541.74 L453.39,541.63 L454.24,541.46 L455.07,541.23 L455.89,540.94 L456.68,540.60 L457.43,540.21 L458.15,539.78 L458.83,539.32 L459.49,538.82 L460.12,538.29 L460.73,537.74 L461.32,537.17 L461.90,536.59 L462.47,535.99 L463.03,535.39 L463.59,534.78 L464.15,534.18 L464.72,533.58 L465.29,532.99 L465.88,532.43 L466.49,531.87 L467.11,531.34 L467.74,530.82 L468.37,530.31 L469.02,529.82 L469.67,529.32 L470.33,528.83 L470.99,528.35 L471.65,527.86 L472.31,527.38 L472.97,526.90 L473.64,526.42 L474.31,525.95 L474.98,525.48 L475.65,525.01 L476.33,524.55 L477.01,524.09 L477.69,523.63 L478.37,523.18 L479.06,522.72 L479.75,522.28 L480.44,521.84 L481.13,521.40 L481.82,520.96 L482.52,520.53 L483.22,520.11 L483.92,519.68 L484.63,519.27 L485.33,518.85 L486.04,518.45 L486.75,518.04 L487.47,517.64 L488.18,517.25 L488.90,516.86 L489.62,516.48 L490.35,516.10 L491.07,515.73 L491.80,515.36 L492.53,514.99 L493.26,514.63 L494.00,514.28 L494.73,513.93 L495.47,513.58 L496.21,513.24 L496.95,512.91 L497.70,512.57 L498.45,512.25 L499.19,511.92 L499.95,511.60 L500.70,511.29 L501.45,510.98 L502.21,510.67 L502.97,510.37 L503.73,510.07 L504.49,509.78 L505.25,509.49 L506.01,509.20 L506.78,508.92 L507.55,508.64 L508.32,508.37 L509.09,508.10 L509.86,507.83 L510.63,507.57 L511.41,507.31 L512.19,507.05 L512.96,506.80 L513.74,506.55 L514.52,506.31 L515.30,506.06 L516.09,505.83 L516.87,505.59 L517.66,505.36 L518.44,505.13 L519.23,504.91 L520.02,504.68 L520.81,504.46 L521.60,504.25 L522.39,504.03 L523.18,503.82 L523.98,503.62 L524.77,503.41 L525.57,503.21 L526.36,503.01 L527.16,502.82 L527.96,502.62 L528.75,502.43 L529.55,502.25 L530.35,502.06 L531.15,501.88 L531.95,501.70 L532.75,501.52 L533.56,501.35 L534.36,501.17 L535.16,501.00 L535.96,500.83 L536.77,500.67 L537.57,500.50 L538.37,500.34 L539.18,500.18 L539.98,500.02 L540.79,499.87 L541.59,499.71 L542.40,499.56 L543.20,499.41 L544.01,499.26 L544.81,499.12 L545.62,498.97 L546.43,498.83 L547.23,498.69 L548.04,498.55 L548.85,498.42 L549.65,498.28 L550.46,498.15 L551.27,498.02 L552.08,497.89 L552.88,497.76 L553.69,497.63 L554.50,497.51 L555.31,497.39 L556.12,497.27 L556.93,497.15 L557.73,497.03 L558.54,496.91 L559.35,496.80 L560.16,496.69 L560.97,496.58 L561.78,496.47 L562.59,496.36 L563.40,496.25 L564.21,496.15 L565.02,496.04 L565.83,495.94 L566.64,495.84 L567.46,495.74 L568.27,495.64 L569.08,495.55 L569.89,495.45 L570.70,495.36 L571.51,495.27 L572.32,495.18 L573.14,495.09 L573.95,495.00 L574.76,494.91 L575.57,494.83 L576.39,494.74 L577.20,494.66 L578.01,494.58 L578.82,494.50 L579.64,494.42 L580.45,494.34 L581.26,494.26 L582.08,494.19 L582.89,494.11 L583.70,494.04 L584.52,493.97 L585.33,493.90 L586.15,493.83 L586.96,493.76 L587.78,493.69 L588.59,493.62 L589.40,493.55 L590.22,493.49 L591.03,493.43 L591.85,493.36 L592.66,493.30 L593.48,493.24 L594.29,493.18 L595.11,493.12 L595.92,493.06 L596.74,493.00 L597.56,492.95 L598.37,492.89 L599.19,492.83 L600.00,492.78 L600.82,492.73 L601.63,492.67 L602.45,492.62 L603.27,492.57 L604.08,492.52 L604.90,492.47 L605.72,492.42 L606.53,492.37 L607.35,492.32 L608.17,492.27 L608.98,492.23 L609.80,492.18 L610.62,492.14 L611.43,492.09 L612.25,492.05 L613.07,492.00 L613.88,491.96 L614.70,491.92 L615.52,491.87 L616.33,491.83 L617.15,491.79 L617.97,491.75 L618.79,491.71 L619.60,491.67 L620.42,491.63 L621.24,491.59 L622.06,491.55 L622.87,491.51 L623.69,491.47 L624.51,491.43 L625.33,491.39 L626.14,491.36 L626.96,491.32 L627.78,491.28 L628.60,491.24 L629.41,491.21 L630.23,491.17 L631.05,491.13 L631.87,491.10 L632.69,491.06 L633.50,491.02 L634.32,490.99 L635.14,490.95 L635.96,490.92 L636.78,490.88 L637.59,490.84 L638.41,490.81 L639.23,490.77 L640.05,490.74 L640.86,490.70 L641.68,490.66 L642.50,490.63 L643.32,490.59 L644.14,490.56 L644.95,490.52 L645.77,490.48 L646.59,490.45 L647.41,490.41 L648.22,490.37 L649.04,490.34 L649.86,490.30 L650.68,490.26 L651.50,490.22 L652.31,490.19 L653.13,490.15 L653.95,490.11 L654.77,490.07 L655.58,490.03 L656.40,489.99 L657.22,489.95 L658.04,489.91 L658.85,489.87 L659.67,489.83 L660.49,489.79 L661.30,489.74 L662.12,489.70 L662.94,489.66 L663.76,489.62 L664.57,489.57 L665.39,489.53 L666.21,489.48 L667.02,489.44 L667.84,489.39 L668.66,489.34 L669.47,489.30 L670.29,489.25 L671.11,489.20 L671.92,489.15 L672.74,489.10 L673.56,489.05 L674.37,489.00 L675.19,488.95 L676.00,488.89" stroke="#7E2F8E" class="ln" clip-path="url(#cd)"/>
<path d="M404.40,364.70 L404.97,364.05 L405.50,363.36 L405.98,362.63 L406.43,361.87 L406.86,361.08 L407.28,360.29 L407.70,359.48 L408.13,358.68 L408.58,357.89 L409.06,357.12 L409.57,356.37 L410.14,355.65 L410.76,354.98 L411.46,354.36 L412.20,353.82 L412.98,353.39 L413.78,353.10 L414.56,352.99 L415.33,353.08 L416.05,353.35 L416.74,353.78 L417.39,354.34 L417.99,355.01 L418.53,355.76 L419.02,356.57 L419.44,357.42 L419.80,358.28 L420.10,359.15 L420.35,360.03 L420.57,360.91 L420.75,361.80 L420.92,362.68 L421.08,363.57 L421.24,364.46 L421.40,365.35 L421.56,366.24 L421.71,367.12 L421.86,368.01 L422.01,368.90 L422.16,369.78 L422.30,370.67 L422.45,371.55 L422.59,372.44 L422.73,373.32 L422.87,374.20 L423.01,375.08 L423.14,375.97 L423.28,376.85 L423.41,377.73 L423.54,378.61 L423.67,379.49 L423.80,380.37 L423.93,381.25 L424.05,382.14 L424.18,383.02 L424.30,383.90 L424.42,384.77 L424.54,385.65 L424.66,386.53 L424.77,387.41 L424.89,388.29 L425.01,389.17 L425.12,390.05 L425.23,390.93 L425.34,391.81 L425.45,392.69 L425.56,393.56 L425.67,394.44 L425.78,395.32 L425.89,396.20 L425.99,397.08 L426.10,397.96 L426.20,398.83 L426.30,399.71 L426.41,400.59 L426.51,401.47 L426.61,402.35 L426.71,403.23 L426.81,404.11 L426.90,404.99 L427.00,405.87 L427.10,406.75 L427.20,407.63 L427.29,408.51 L427.39,409.39 L427.48,410.27 L427.58,411.15 L427.67,412.03 L427.76,412.91 L427.86,413.79 L427.95,414.67 L428.04,415.55 L428.13,416.43 L428.22,417.31 L428.31,418.19 L428.40,419.07 L428.49,419.96 L428.58,420.84 L428.67,421.72 L428.76,422.60 L428.85,423.48 L428.93,424.36 L429.02,425.25 L429.11,426.13 L429.19,427.01 L429.28,427.89 L429.37,428.77 L429.45,429.66 L429.54,430.54 L429.63,431.42 L429.71,432.30 L429.80,433.19 L429.88,434.07 L429.97,434.95 L430.05,435.83 L430.14,436.72 L430.22,437.60 L430.31,438.48 L430.39,439.37 L430.48,440.25 L430.56,441.13 L430.65,442.02 L430.73,442.90 L430.82,443.78 L430.90,444.67 L430.99,445.55 L431.07,446.43 L431.16,447.31 L431.24,448.20 L431.33,449.08 L431.41,449.96 L431.50,450.85 L431.59,451.73 L431.67,452.62 L431.76,453.50 L431.85,454.38 L431.93,455.27 L432.02,456.15 L432.11,457.03 L432.20,457.92 L432.28,458.80 L432.37,459.68 L432.46,460.57 L432.55,461.45 L432.64,462.33 L432.73,463.22 L432.82,464.10 L432.91,464.98 L433.00,465.87 L433.10,466.75 L433.19,467.63 L433.28,468.52 L433.37,469.40 L433.47,470.28 L433.56,471.17 L433.66,472.05 L433.75,472.93 L433.85,473.81 L433.95,474.70 L434.05,475.58 L434.14,476.46 L434.24,477.35 L434.34,478.23 L434.44,479.11 L434.54,479.99 L434.65,480.88 L434.75,481.76 L434.85,482.64 L434.96,483.52 L435.06,484.41 L435.17,485.29 L435.27,486.17 L435.38,487.05 L435.49,487.93 L435.60,488.82 L435.71,489.70 L435.82,490.58 L435.93,491.46 L436.05,492.34 L436.16,493.22 L436.28,494.10 L436.39,494.99 L436.51,495.87 L436.63,496.75 L436.75,497.63 L436.87,498.51 L436.99,499.39 L437.11,500.27 L437.23,501.15 L437.36,502.03 L437.49,502.91 L437.62,503.79 L437.75,504.67 L437.89,505.54 L438.04,506.42 L438.18,507.29 L438.34,508.17 L438.50,509.04 L438.66,509.91 L438.84,510.78 L439.02,511.64 L439.20,512.51 L439.40,513.37 L439.60,514.23 L439.82,515.08 L440.04,515.94 L440.28,516.79 L440.52,517.64 L440.78,518.48 L441.05,519.33 L441.33,520.16 L441.62,521.00 L441.93,521.83 L442.25,522.66 L442.58,523.48 L442.93,524.30 L443.29,525.12 L443.67,525.93 L444.07,526.73 L444.49,527.52 L444.93,528.29 L445.41,529.02 L445.94,529.71 L446.51,530.34 L447.14,530.91 L447.83,531.41 L448.59,531.81 L449.41,532.13 L450.27,532.35 L451.14,532.47 L451.99,532.50 L452.83,532.44 L453.64,532.29 L454.44,532.06 L455.22,531.76 L455.99,531.40 L456.74,530.97 L457.47,530.50 L458.19,529.97 L458.90,529.41 L459.60,528.82 L460.29,528.20 L460.97,527.57 L461.65,526.92 L462.32,526.26 L462.98,525.61 L463.64,524.96 L464.29,524.32 L464.95,523.68 L465.60,523.06 L466.25,522.43 L466.90,521.82 L467.56,521.21 L468.21,520.61 L468.86,520.01 L469.52,519.42 L470.19,518.83 L470.85,518.25 L471.52,517.68 L472.20,517.11 L472.88,516.55 L473.56,515.99 L474.25,515.44 L474.94,514.90 L475.63,514.36 L476.33,513.82 L477.04,513.29 L477.74,512.77 L478.46,512.25 L479.17,511.74 L479.89,511.23 L480.61,510.73 L481.34,510.24 L482.07,509.75 L482.80,509.26 L483.54,508.78 L484.28,508.30 L485.02,507.83 L485.77,507.37 L486.52,506.91 L487.27,506.46 L488.03,506.01 L488.79,505.56 L489.55,505.12 L490.31,504.69 L491.08,504.26 L491.86,503.83 L492.63,503.41 L493.41,502.99 L494.19,502.58 L494.97,502.18 L495.76,501.77 L496.55,501.38 L497.34,500.99 L498.13,500.60 L498.93,500.21 L499.73,499.83 L500.53,499.46 L501.34,499.09 L502.14,498.72 L502.95,498.36 L503.76,498.01 L504.58,497.65 L505.39,497.30 L506.21,496.96 L507.03,496.62 L507.85,496.28 L508.68,495.95 L509.51,495.62 L510.33,495.30 L511.16,494.98 L512.00,494.66 L512.83,494.35 L513.67,494.04 L514.50,493.74 L515.34,493.44 L516.18,493.14 L517.03,492.85 L517.87,492.56 L518.71,492.27 L519.56,491.99 L520.41,491.71 L521.26,491.44 L522.11,491.17 L522.96,490.90 L523.81,490.63 L524.67,490.37 L525.52,490.12 L526.38,489.86 L527.24,489.61 L528.10,489.36 L528.96,489.12 L529.82,488.88 L530.68,488.64 L531.54,488.41 L532.40,488.17 L533.27,487.95 L534.13,487.72 L535.00,487.50 L535.86,487.28 L536.73,487.06 L537.59,486.85 L538.46,486.64 L539.33,486.43 L540.19,486.22 L541.06,486.02 L541.93,485.82 L542.80,485.62 L543.67,485.43 L544.54,485.24 L545.41,485.05 L546.28,484.86 L547.15,484.68 L548.02,484.50 L548.89,484.32 L549.76,484.14 L550.63,483.97 L551.50,483.80 L552.37,483.63 L553.24,483.47 L554.12,483.30 L554.99,483.14 L555.86,482.98 L556.73,482.82 L557.61,482.67 L558.48,482.52 L559.35,482.37 L560.23,482.22 L561.10,482.08 L561.98,481.93 L562.85,481.79 L563.73,481.65 L564.60,481.52 L565.48,481.38 L566.35,481.25 L567.23,481.12 L568.10,480.99 L568.98,480.87 L569.86,480.74 L570.73,480.62 L571.61,480.50 L572.49,480.38 L573.36,480.26 L574.24,480.15 L575.12,480.04 L576.00,479.93 L576.88,479.82 L577.76,479.71 L578.63,479.60 L579.51,479.50 L580.39,479.40 L581.27,479.30 L582.15,479.20 L583.03,479.10 L583.91,479.01 L584.79,478.91 L585.67,478.82 L586.55,478.73 L587.43,478.64 L588.31,478.55 L589.19,478.46 L590.07,478.38 L590.96,478.30 L591.84,478.21 L592.72,478.13 L593.60,478.05 L594.48,477.98 L595.36,477.90 L596.25,477.82 L597.13,477.75 L598.01,477.68 L598.89,477.61 L599.78,477.54 L600.66,477.47 L601.54,477.40 L602.43,477.33 L603.31,477.27 L604.19,477.20 L605.08,477.14 L605.96,477.07 L606.85,477.01 L607.73,476.95 L608.61,476.89 L609.50,476.83 L610.38,476.78 L611.27,476.72 L612.15,476.66 L613.04,476.61 L613.92,476.55 L614.81,476.50 L615.69,476.45 L616.58,476.39 L617.46,476.34 L618.35,476.29 L619.23,476.24 L620.12,476.19 L621.01,476.14 L621.89,476.09 L622.78,476.05 L623.66,476.00 L624.55,475.95 L625.44,475.91 L626.32,475.86 L627.21,475.82 L628.10,475.77 L628.98,475.73 L629.87,475.68 L630.75,475.64 L631.64,475.60 L632.53,475.55 L633.42,475.51 L634.30,475.47 L635.19,475.43 L636.08,475.39 L636.96,475.35 L637.85,475.30 L638.74,475.26 L639.62,475.22 L640.51,475.18 L641.40,475.14 L642.29,475.10 L643.17,475.06 L644.06,475.02 L644.95,474.98 L645.84,474.94 L646.72,474.90 L647.61,474.86 L648.50,474.81 L649.39,474.77 L650.27,474.73 L651.16,474.69 L652.05,474.65 L652.94,474.61 L653.82,474.57 L654.71,474.52 L655.60,474.48 L656.49,474.44 L657.37,474.40 L658.26,474.35 L659.15,474.31 L660.04,474.26 L660.93,474.22 L661.81,474.17 L662.70,474.13 L663.59,474.08 L664.48,474.04 L665.36,473.99 L666.25,473.94 L667.14,473.89 L668.03,473.84 L668.91,473.79 L669.80,473.74 L670.69,473.69 L671.57,473.64 L672.46,473.59 L673.35,473.54 L674.24,473.48 L675.12,473.43 L676.01,473.37" stroke="#77AC30" class="ln" clip-path="url(#cd)"/>
<path d="M572.4,357.2H602.7" stroke="#0072BD" class="ln"/>
<text transform="translate(605.44,362.50) scale(1.400,1)" style="font-family:&quot;Liberation Serif&quot;,serif;font-style:italic;font-size:11px" fill="#262626">σ</text>
<text transform="translate(614.57,356.90) scale(1.050,1)" style="font-family:&quot;Liberation Serif&quot;,serif;font-size:7.2px" fill="#262626" class="tk">2</text>
<path d="M623.60,357.95h8.8M623.60,360.75h8.8" stroke="#262626" stroke-width="0.7"/>
<text transform="translate(636.59,362.50) scale(1.110,1)" style="font-family:&quot;Liberation Serif&quot;,serif;font-size:12.1px" fill="#262626">0.02</text>
<path d="M572.4,372.9H602.7" stroke="#D95319" class="ln"/>
<text transform="translate(605.44,378.20) scale(1.400,1)" style="font-family:&quot;Liberation Serif&quot;,serif;font-style:italic;font-size:11px" fill="#262626">σ</text>
<text transform="translate(614.57,372.60) scale(1.050,1)" style="font-family:&quot;Liberation Serif&quot;,serif;font-size:7.2px" fill="#262626" class="tk">2</text>
<path d="M623.60,373.65h8.8M623.60,376.45h8.8" stroke="#262626" stroke-width="0.7"/>
<text transform="translate(636.59,378.20) scale(1.110,1)" style="font-family:&quot;Liberation Serif&quot;,serif;font-size:12.1px" fill="#262626">0.04</text>
<path d="M572.4,388.7H602.7" stroke="#EDB120" class="ln"/>
<text transform="translate(605.44,394.00) scale(1.400,1)" style="font-family:&quot;Liberation Serif&quot;,serif;font-style:italic;font-size:11px" fill="#262626">σ</text>
<text transform="translate(614.57,388.40) scale(1.050,1)" style="font-family:&quot;Liberation Serif&quot;,serif;font-size:7.2px" fill="#262626" class="tk">2</text>
<path d="M623.60,389.45h8.8M623.60,392.25h8.8" stroke="#262626" stroke-width="0.7"/>
<text transform="translate(636.59,394.00) scale(1.110,1)" style="font-family:&quot;Liberation Serif&quot;,serif;font-size:12.1px" fill="#262626">0.06</text>
<path d="M572.4,404.5H602.7" stroke="#7E2F8E" class="ln"/>
<text transform="translate(605.44,409.80) scale(1.400,1)" style="font-family:&quot;Liberation Serif&quot;,serif;font-style:italic;font-size:11px" fill="#262626">σ</text>
<text transform="translate(614.57,404.20) scale(1.050,1)" style="font-family:&quot;Liberation Serif&quot;,serif;font-size:7.2px" fill="#262626" class="tk">2</text>
<path d="M623.60,405.25h8.8M623.60,408.05h8.8" stroke="#262626" stroke-width="0.7"/>
<text transform="translate(636.59,409.80) scale(1.110,1)" style="font-family:&quot;Liberation Serif&quot;,serif;font-size:12.1px" fill="#262626">0.08</text>
<path d="M572.4,420.2H602.7" stroke="#77AC30" class="ln"/>
<text transform="translate(605.44,425.50) scale(1.400,1)" style="font-family:&quot;Liberation Serif&quot;,serif;font-style:italic;font-size:11px" fill="#262626">σ</text>
<text transform="translate(614.57,419.90) scale(1.050,1)" style="font-family:&quot;Liberation Serif&quot;,serif;font-size:7.2px" fill="#262626" class="tk">2</text>
<path d="M623.60,420.95h8.8M623.60,423.75h8.8" stroke="#262626" stroke-width="0.7"/>
<text transform="translate(636.59,425.50) scale(1.110,1)" style="font-family:&quot;Liberation Serif&quot;,serif;font-size:12.1px" fill="#262626">0.1</text>
<text transform="translate(373.75,454.70) rotate(-90) scale(0.87,1)" text-anchor="middle" style="font-family:&quot;Liberation Sans&quot;,sans-serif;font-size:15.8px" fill="#262626" class="tk">G</text>
<text transform="translate(536.53,597.55) scale(1.100,1)" style="font-family:&quot;Liberation Serif&quot;,serif;font-style:italic;font-size:15.5px" fill="#3a3a3a">ε</text>
<text transform="translate(518.49,626.00) scale(1.030,1)" style="font-family:&quot;Liberation Serif&quot;,serif;font-size:15.5px" fill="#111" class="tk2">(d)</text>
</svg>
</body></html>
